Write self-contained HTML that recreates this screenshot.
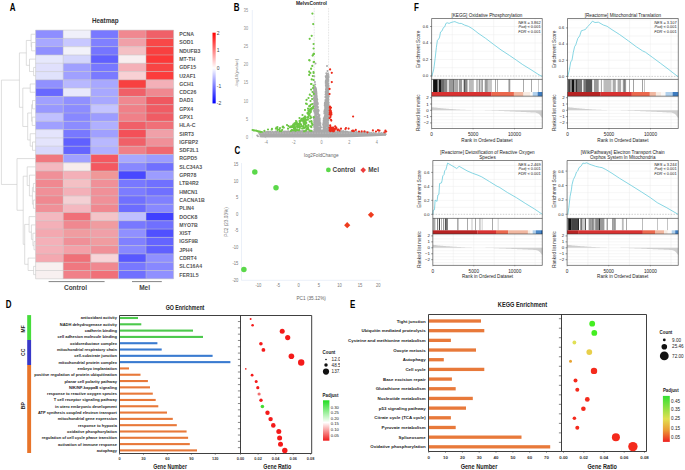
<!DOCTYPE html>
<html><head><meta charset="utf-8"><style>
html,body{margin:0;padding:0;background:#fff;width:685px;height:470px;overflow:hidden}
svg{display:block}
text{font-family:"Liberation Sans",sans-serif}
.b{font-weight:bold}
</style></head><body>
<svg width="685" height="470" viewBox="0 0 685 470">
<rect width="685" height="470" fill="#fff"/>
<text transform="translate(9.7 10.65) scale(0.76 1)" class="b" font-size="10.5">A</text>
<text x="105.3" y="23" class="b" font-size="6.3" fill="#333" text-anchor="middle">Heatmap</text>
<rect x="35.60" y="30.10" width="27.60" height="8.29" fill="#8e8eff"/>
<rect x="63.20" y="30.10" width="27.60" height="8.29" fill="#f0f0fa"/>
<rect x="90.80" y="30.10" width="27.60" height="8.29" fill="#7878ff"/>
<rect x="118.40" y="30.10" width="27.60" height="8.29" fill="#f08890"/>
<rect x="146.00" y="30.10" width="27.60" height="8.29" fill="#f06068"/>
<rect x="35.60" y="38.39" width="27.60" height="8.29" fill="#a8a8ff"/>
<rect x="63.20" y="38.39" width="27.60" height="8.29" fill="#c8c8ff"/>
<rect x="90.80" y="38.39" width="27.60" height="8.29" fill="#8080ff"/>
<rect x="118.40" y="38.39" width="27.60" height="8.29" fill="#f0a0a8"/>
<rect x="146.00" y="38.39" width="27.60" height="8.29" fill="#f84848"/>
<rect x="35.60" y="46.68" width="27.60" height="8.29" fill="#9090ff"/>
<rect x="63.20" y="46.68" width="27.60" height="8.29" fill="#f2f2fa"/>
<rect x="90.80" y="46.68" width="27.60" height="8.29" fill="#7575ff"/>
<rect x="118.40" y="46.68" width="27.60" height="8.29" fill="#f4c0c4"/>
<rect x="146.00" y="46.68" width="27.60" height="8.29" fill="#f84040"/>
<rect x="35.60" y="54.97" width="27.60" height="8.29" fill="#e6e8fc"/>
<rect x="63.20" y="54.97" width="27.60" height="8.29" fill="#d4d6fc"/>
<rect x="90.80" y="54.97" width="27.60" height="8.29" fill="#6060ff"/>
<rect x="118.40" y="54.97" width="27.60" height="8.29" fill="#f8eef0"/>
<rect x="146.00" y="54.97" width="27.60" height="8.29" fill="#fc3838"/>
<rect x="35.60" y="63.26" width="27.60" height="8.29" fill="#e0e0fc"/>
<rect x="63.20" y="63.26" width="27.60" height="8.29" fill="#a0a0ff"/>
<rect x="90.80" y="63.26" width="27.60" height="8.29" fill="#7878ff"/>
<rect x="118.40" y="63.26" width="27.60" height="8.29" fill="#f4b0b8"/>
<rect x="146.00" y="63.26" width="27.60" height="8.29" fill="#f84444"/>
<rect x="35.60" y="71.55" width="27.60" height="8.29" fill="#e0e2fc"/>
<rect x="63.20" y="71.55" width="27.60" height="8.29" fill="#a0a0ff"/>
<rect x="90.80" y="71.55" width="27.60" height="8.29" fill="#7a7aff"/>
<rect x="118.40" y="71.55" width="27.60" height="8.29" fill="#f8d0d4"/>
<rect x="146.00" y="71.55" width="27.60" height="8.29" fill="#fc3c3c"/>
<rect x="35.60" y="79.84" width="27.60" height="8.29" fill="#9090ff"/>
<rect x="63.20" y="79.84" width="27.60" height="8.29" fill="#b8b8ff"/>
<rect x="90.80" y="79.84" width="27.60" height="8.29" fill="#a8a8ff"/>
<rect x="118.40" y="79.84" width="27.60" height="8.29" fill="#f84040"/>
<rect x="146.00" y="79.84" width="27.60" height="8.29" fill="#f4b0b8"/>
<rect x="35.60" y="88.13" width="27.60" height="8.29" fill="#6868ff"/>
<rect x="63.20" y="88.13" width="27.60" height="8.29" fill="#e8e8fc"/>
<rect x="90.80" y="88.13" width="27.60" height="8.29" fill="#a8a8ff"/>
<rect x="118.40" y="88.13" width="27.60" height="8.29" fill="#f06068"/>
<rect x="146.00" y="88.13" width="27.60" height="8.29" fill="#f08890"/>
<rect x="35.60" y="96.42" width="27.60" height="8.29" fill="#a0a0ff"/>
<rect x="63.20" y="96.42" width="27.60" height="8.29" fill="#9090ff"/>
<rect x="90.80" y="96.42" width="27.60" height="8.29" fill="#a8a8ff"/>
<rect x="118.40" y="96.42" width="27.60" height="8.29" fill="#f08890"/>
<rect x="146.00" y="96.42" width="27.60" height="8.29" fill="#f05860"/>
<rect x="35.60" y="104.71" width="27.60" height="8.29" fill="#9898ff"/>
<rect x="63.20" y="104.71" width="27.60" height="8.29" fill="#8c8cff"/>
<rect x="90.80" y="104.71" width="27.60" height="8.29" fill="#c4c4ff"/>
<rect x="118.40" y="104.71" width="27.60" height="8.29" fill="#f08088"/>
<rect x="146.00" y="104.71" width="27.60" height="8.29" fill="#f05c64"/>
<rect x="35.60" y="113.00" width="27.60" height="8.29" fill="#c0c0ff"/>
<rect x="63.20" y="113.00" width="27.60" height="8.29" fill="#8888ff"/>
<rect x="90.80" y="113.00" width="27.60" height="8.29" fill="#9c9cff"/>
<rect x="118.40" y="113.00" width="27.60" height="8.29" fill="#f08088"/>
<rect x="146.00" y="113.00" width="27.60" height="8.29" fill="#f05c64"/>
<rect x="35.60" y="121.29" width="27.60" height="8.29" fill="#a0a0ff"/>
<rect x="63.20" y="121.29" width="27.60" height="8.29" fill="#8c8cff"/>
<rect x="90.80" y="121.29" width="27.60" height="8.29" fill="#b0b0ff"/>
<rect x="118.40" y="121.29" width="27.60" height="8.29" fill="#f06068"/>
<rect x="146.00" y="121.29" width="27.60" height="8.29" fill="#f07078"/>
<rect x="35.60" y="129.58" width="27.60" height="8.29" fill="#e4e4fc"/>
<rect x="63.20" y="129.58" width="27.60" height="8.29" fill="#7878ff"/>
<rect x="90.80" y="129.58" width="27.60" height="8.29" fill="#a0a0ff"/>
<rect x="118.40" y="129.58" width="27.60" height="8.29" fill="#f45058"/>
<rect x="146.00" y="129.58" width="27.60" height="8.29" fill="#f0a0a8"/>
<rect x="35.60" y="137.87" width="27.60" height="8.29" fill="#e4e4fc"/>
<rect x="63.20" y="137.87" width="27.60" height="8.29" fill="#6060ff"/>
<rect x="90.80" y="137.87" width="27.60" height="8.29" fill="#b8b8ff"/>
<rect x="118.40" y="137.87" width="27.60" height="8.29" fill="#f06068"/>
<rect x="146.00" y="137.87" width="27.60" height="8.29" fill="#f09098"/>
<rect x="35.60" y="146.16" width="27.60" height="8.29" fill="#d8d8fc"/>
<rect x="63.20" y="146.16" width="27.60" height="8.29" fill="#6464ff"/>
<rect x="90.80" y="146.16" width="27.60" height="8.29" fill="#b0b0ff"/>
<rect x="118.40" y="146.16" width="27.60" height="8.29" fill="#f08088"/>
<rect x="146.00" y="146.16" width="27.60" height="8.29" fill="#f06870"/>
<rect x="35.60" y="154.45" width="27.60" height="8.29" fill="#f07880"/>
<rect x="63.20" y="154.45" width="27.60" height="8.29" fill="#a0a0ff"/>
<rect x="90.80" y="154.45" width="27.60" height="8.29" fill="#f45860"/>
<rect x="118.40" y="154.45" width="27.60" height="8.29" fill="#a8a8ff"/>
<rect x="146.00" y="154.45" width="27.60" height="8.29" fill="#9c9cff"/>
<rect x="35.60" y="162.74" width="27.60" height="8.29" fill="#f4b8c0"/>
<rect x="63.20" y="162.74" width="27.60" height="8.29" fill="#f8ecec"/>
<rect x="90.80" y="162.74" width="27.60" height="8.29" fill="#f45860"/>
<rect x="118.40" y="162.74" width="27.60" height="8.29" fill="#8888ff"/>
<rect x="146.00" y="162.74" width="27.60" height="8.29" fill="#7070ff"/>
<rect x="35.60" y="171.03" width="27.60" height="8.29" fill="#f09098"/>
<rect x="63.20" y="171.03" width="27.60" height="8.29" fill="#f4b0b8"/>
<rect x="90.80" y="171.03" width="27.60" height="8.29" fill="#f09898"/>
<rect x="118.40" y="171.03" width="27.60" height="8.29" fill="#4848ff"/>
<rect x="146.00" y="171.03" width="27.60" height="8.29" fill="#9c9cff"/>
<rect x="35.60" y="179.32" width="27.60" height="8.29" fill="#f08890"/>
<rect x="63.20" y="179.32" width="27.60" height="8.29" fill="#f4c0c4"/>
<rect x="90.80" y="179.32" width="27.60" height="8.29" fill="#f09098"/>
<rect x="118.40" y="179.32" width="27.60" height="8.29" fill="#7878ff"/>
<rect x="146.00" y="179.32" width="27.60" height="8.29" fill="#7070ff"/>
<rect x="35.60" y="187.61" width="27.60" height="8.29" fill="#f09098"/>
<rect x="63.20" y="187.61" width="27.60" height="8.29" fill="#f4b0b8"/>
<rect x="90.80" y="187.61" width="27.60" height="8.29" fill="#f09098"/>
<rect x="118.40" y="187.61" width="27.60" height="8.29" fill="#7c7cff"/>
<rect x="146.00" y="187.61" width="27.60" height="8.29" fill="#7070ff"/>
<rect x="35.60" y="195.90" width="27.60" height="8.29" fill="#f08890"/>
<rect x="63.20" y="195.90" width="27.60" height="8.29" fill="#f4d0d4"/>
<rect x="90.80" y="195.90" width="27.60" height="8.29" fill="#f09098"/>
<rect x="118.40" y="195.90" width="27.60" height="8.29" fill="#7070ff"/>
<rect x="146.00" y="195.90" width="27.60" height="8.29" fill="#8080ff"/>
<rect x="35.60" y="204.19" width="27.60" height="8.29" fill="#f09098"/>
<rect x="63.20" y="204.19" width="27.60" height="8.29" fill="#f4b8c0"/>
<rect x="90.80" y="204.19" width="27.60" height="8.29" fill="#f08890"/>
<rect x="118.40" y="204.19" width="27.60" height="8.29" fill="#6c6cff"/>
<rect x="146.00" y="204.19" width="27.60" height="8.29" fill="#8888ff"/>
<rect x="35.60" y="212.48" width="27.60" height="8.29" fill="#f4b8c0"/>
<rect x="63.20" y="212.48" width="27.60" height="8.29" fill="#f07078"/>
<rect x="90.80" y="212.48" width="27.60" height="8.29" fill="#f4c4c8"/>
<rect x="118.40" y="212.48" width="27.60" height="8.29" fill="#c0c0ff"/>
<rect x="146.00" y="212.48" width="27.60" height="8.29" fill="#4040ff"/>
<rect x="35.60" y="220.77" width="27.60" height="8.29" fill="#f4b0b8"/>
<rect x="63.20" y="220.77" width="27.60" height="8.29" fill="#f08890"/>
<rect x="90.80" y="220.77" width="27.60" height="8.29" fill="#f09ca0"/>
<rect x="118.40" y="220.77" width="27.60" height="8.29" fill="#7878ff"/>
<rect x="146.00" y="220.77" width="27.60" height="8.29" fill="#7070ff"/>
<rect x="35.60" y="229.06" width="27.60" height="8.29" fill="#f4a8b0"/>
<rect x="63.20" y="229.06" width="27.60" height="8.29" fill="#f09ca0"/>
<rect x="90.80" y="229.06" width="27.60" height="8.29" fill="#f0a0a8"/>
<rect x="118.40" y="229.06" width="27.60" height="8.29" fill="#9090ff"/>
<rect x="146.00" y="229.06" width="27.60" height="8.29" fill="#5050ff"/>
<rect x="35.60" y="237.35" width="27.60" height="8.29" fill="#f4b0b8"/>
<rect x="63.20" y="237.35" width="27.60" height="8.29" fill="#f09098"/>
<rect x="90.80" y="237.35" width="27.60" height="8.29" fill="#f09ca0"/>
<rect x="118.40" y="237.35" width="27.60" height="8.29" fill="#8080ff"/>
<rect x="146.00" y="237.35" width="27.60" height="8.29" fill="#6464ff"/>
<rect x="35.60" y="245.64" width="27.60" height="8.29" fill="#f4b0b8"/>
<rect x="63.20" y="245.64" width="27.60" height="8.29" fill="#f4a0a8"/>
<rect x="90.80" y="245.64" width="27.60" height="8.29" fill="#f09098"/>
<rect x="118.40" y="245.64" width="27.60" height="8.29" fill="#8888ff"/>
<rect x="146.00" y="245.64" width="27.60" height="8.29" fill="#6060ff"/>
<rect x="35.60" y="253.93" width="27.60" height="8.29" fill="#f4a8b0"/>
<rect x="63.20" y="253.93" width="27.60" height="8.29" fill="#f07078"/>
<rect x="90.80" y="253.93" width="27.60" height="8.29" fill="#f8d4d8"/>
<rect x="118.40" y="253.93" width="27.60" height="8.29" fill="#5858ff"/>
<rect x="146.00" y="253.93" width="27.60" height="8.29" fill="#9090ff"/>
<rect x="35.60" y="262.22" width="27.60" height="8.29" fill="#f8f0f0"/>
<rect x="63.20" y="262.22" width="27.60" height="8.29" fill="#f07880"/>
<rect x="90.80" y="262.22" width="27.60" height="8.29" fill="#f08890"/>
<rect x="118.40" y="262.22" width="27.60" height="8.29" fill="#7878ff"/>
<rect x="146.00" y="262.22" width="27.60" height="8.29" fill="#8888ff"/>
<rect x="35.60" y="270.51" width="27.60" height="8.29" fill="#f8f0f0"/>
<rect x="63.20" y="270.51" width="27.60" height="8.29" fill="#f08088"/>
<rect x="90.80" y="270.51" width="27.60" height="8.29" fill="#f07078"/>
<rect x="118.40" y="270.51" width="27.60" height="8.29" fill="#7070ff"/>
<rect x="146.00" y="270.51" width="27.60" height="8.29" fill="#9090ff"/>
<path d="M35.60 30.10H173.60M35.60 38.39H173.60M35.60 46.68H173.60M35.60 54.97H173.60M35.60 63.26H173.60M35.60 71.55H173.60M35.60 79.84H173.60M35.60 88.13H173.60M35.60 96.42H173.60M35.60 104.71H173.60M35.60 113.00H173.60M35.60 121.29H173.60M35.60 129.58H173.60M35.60 137.87H173.60M35.60 146.16H173.60M35.60 154.45H173.60M35.60 162.74H173.60M35.60 171.03H173.60M35.60 179.32H173.60M35.60 187.61H173.60M35.60 195.90H173.60M35.60 204.19H173.60M35.60 212.48H173.60M35.60 220.77H173.60M35.60 229.06H173.60M35.60 237.35H173.60M35.60 245.64H173.60M35.60 253.93H173.60M35.60 262.22H173.60M35.60 270.51H173.60M35.60 278.80H173.60M35.60 30.10V278.80M63.20 30.10V278.80M90.80 30.10V278.80M118.40 30.10V278.80M146.00 30.10V278.80M173.60 30.10V278.80" stroke="#c0c0c0" stroke-width="0.5" fill="none"/>
<text x="179.3" y="36.15" class="b" font-size="5.2" fill="#555">PCNA</text>
<text x="179.3" y="44.43" class="b" font-size="5.2" fill="#555">SOD1</text>
<text x="179.3" y="52.73" class="b" font-size="5.2" fill="#555">NDUFB3</text>
<text x="179.3" y="61.01" class="b" font-size="5.2" fill="#555">MT-TH</text>
<text x="179.3" y="69.31" class="b" font-size="5.2" fill="#555">GDF15</text>
<text x="179.3" y="77.59" class="b" font-size="5.2" fill="#555">U2AF1</text>
<text x="179.3" y="85.88" class="b" font-size="5.2" fill="#555">GCH1</text>
<text x="179.3" y="94.18" class="b" font-size="5.2" fill="#555">CDC26</text>
<text x="179.3" y="102.47" class="b" font-size="5.2" fill="#555">DAD1</text>
<text x="179.3" y="110.75" class="b" font-size="5.2" fill="#555">GPX4</text>
<text x="179.3" y="119.04" class="b" font-size="5.2" fill="#555">GPX1</text>
<text x="179.3" y="127.34" class="b" font-size="5.2" fill="#555">HLA-C</text>
<text x="179.3" y="135.62" class="b" font-size="5.2" fill="#555">SIRT3</text>
<text x="179.3" y="143.91" class="b" font-size="5.2" fill="#555">IGFBP2</text>
<text x="179.3" y="152.20" class="b" font-size="5.2" fill="#555">SDF2L1</text>
<text x="179.3" y="160.49" class="b" font-size="5.2" fill="#555">RGPD5</text>
<text x="179.3" y="168.78" class="b" font-size="5.2" fill="#555">SLC34A3</text>
<text x="179.3" y="177.07" class="b" font-size="5.2" fill="#555">GPR78</text>
<text x="179.3" y="185.36" class="b" font-size="5.2" fill="#555">LTB4R2</text>
<text x="179.3" y="193.65" class="b" font-size="5.2" fill="#555">HMCN1</text>
<text x="179.3" y="201.94" class="b" font-size="5.2" fill="#555">CACNA1B</text>
<text x="179.3" y="210.23" class="b" font-size="5.2" fill="#555">PLIN4</text>
<text x="179.3" y="218.52" class="b" font-size="5.2" fill="#555">DOCK8</text>
<text x="179.3" y="226.81" class="b" font-size="5.2" fill="#555">MYO7B</text>
<text x="179.3" y="235.10" class="b" font-size="5.2" fill="#555">XIST</text>
<text x="179.3" y="243.39" class="b" font-size="5.2" fill="#555">IGSF9B</text>
<text x="179.3" y="251.68" class="b" font-size="5.2" fill="#555">JPH4</text>
<text x="179.3" y="259.97" class="b" font-size="5.2" fill="#555">CDRT4</text>
<text x="179.3" y="268.26" class="b" font-size="5.2" fill="#555">SLC16A4</text>
<text x="179.3" y="276.55" class="b" font-size="5.2" fill="#555">FER1L5</text>
<defs><linearGradient id="hmcb" x1="0" y1="0" x2="0" y2="1"><stop offset="0" stop-color="#ff0000"/><stop offset="0.5" stop-color="#ffffff"/><stop offset="1" stop-color="#0000ff"/></linearGradient></defs>
<rect x="212.5" y="32.7" width="3.2" height="70.7" fill="url(#hmcb)"/>
<text x="216.8" y="34.6" font-size="5" fill="#444">2</text>
<text x="216.8" y="52.2" font-size="5" fill="#444">1</text>
<text x="216.8" y="69.9" font-size="5" fill="#444">0</text>
<text x="216.8" y="87.6" font-size="5" fill="#444">-1</text>
<text x="216.8" y="105.3" font-size="5" fill="#444">-2</text>
<path d="M35.60 42.53H31.60V50.83H35.60M35.60 34.25H31.10V46.68H31.60M35.60 67.41H33.60V75.69H35.60M35.60 59.11H29.50V71.55H33.60M31.10 40.46H26.30V65.33H29.50M35.60 83.98H30.20V92.28H35.60M35.60 100.56H32.50V108.85H35.60M35.60 117.14H32.20V125.44H35.60M32.50 104.71H31.60V121.29H32.20M35.60 142.01H32.50V150.30H35.60M35.60 133.72H30.20V146.16H32.50M31.60 113.00H27.70V139.94H30.20M30.20 88.13H22.80V126.47H27.70M26.30 52.90H19.40V107.30H22.80M35.60 183.46H33.40V191.75H35.60M35.60 200.04H33.40V208.33H35.60M33.40 187.61H32.40V204.19H33.40M35.60 175.17H29.40V195.90H32.40M35.60 166.88H27.20V185.54H29.40M35.60 241.49H34.00V249.78H35.60M35.60 233.20H32.90V245.64H34.00M35.60 224.91H31.40V239.42H32.90M35.60 216.62H29.10V232.17H31.40M35.60 266.37H33.60V274.65H35.60M35.60 258.07H28.10V270.51H33.60M29.10 224.40H24.70V264.29H28.10M27.20 176.21H23.20V244.34H24.70M35.60 158.59H17.00V210.28H23.20M19.40 80.10H1.40V184.44H17.00" stroke="#c8c8c8" stroke-width="0.6" fill="none"/>
<path d="M48.6 281.6H104.6M132 281.6H161.8" stroke="#777" stroke-width="0.9"/>
<text x="75.5" y="290" class="b" font-size="6.5" fill="#444" text-anchor="middle">Control</text>
<text x="144.6" y="290" class="b" font-size="6.5" fill="#444" text-anchor="middle">Mel</text>
<text transform="translate(233.8 10.65) scale(0.76 1)" class="b" font-size="10.5">B</text>
<text x="311.5" y="4.9" class="b" font-size="4.9" fill="#222" text-anchor="middle">MelvsControl</text>
<path d="M252.3 10V138.3" stroke="#dde6f3" stroke-width="0.6"/>
<text transform="translate(248.1 138.8) scale(1 1.2)" font-size="3.8" fill="#8a8a8a" text-anchor="end">0</text>
<text transform="translate(248.1 120.7) scale(1 1.2)" font-size="3.8" fill="#8a8a8a" text-anchor="end">5</text>
<text transform="translate(248.1 102.5) scale(1 1.2)" font-size="3.8" fill="#8a8a8a" text-anchor="end">10</text>
<text transform="translate(248.1 84.4) scale(1 1.2)" font-size="3.8" fill="#8a8a8a" text-anchor="end">15</text>
<text transform="translate(248.1 66.2) scale(1 1.2)" font-size="3.8" fill="#8a8a8a" text-anchor="end">20</text>
<text transform="translate(248.1 48.1) scale(1 1.2)" font-size="3.8" fill="#8a8a8a" text-anchor="end">25</text>
<text transform="translate(248.1 29.9) scale(1 1.2)" font-size="3.8" fill="#8a8a8a" text-anchor="end">30</text>
<text transform="translate(248.1 11.8) scale(1 1.2)" font-size="3.8" fill="#8a8a8a" text-anchor="end">35</text>
<text transform="translate(266.1 143.9) scale(1 1.2)" font-size="3.8" fill="#8a8a8a" text-anchor="middle">-4</text>
<path d="M266.1 138.3v1.2" stroke="#dde6f3" stroke-width="0.5"/>
<text transform="translate(293.8 143.9) scale(1 1.2)" font-size="3.8" fill="#8a8a8a" text-anchor="middle">-2</text>
<path d="M293.8 138.3v1.2" stroke="#dde6f3" stroke-width="0.5"/>
<text transform="translate(321.5 143.9) scale(1 1.2)" font-size="3.8" fill="#8a8a8a" text-anchor="middle">0</text>
<path d="M321.5 138.3v1.2" stroke="#dde6f3" stroke-width="0.5"/>
<text transform="translate(349.2 143.9) scale(1 1.2)" font-size="3.8" fill="#8a8a8a" text-anchor="middle">2</text>
<path d="M349.2 138.3v1.2" stroke="#dde6f3" stroke-width="0.5"/>
<text transform="translate(376.9 143.9) scale(1 1.2)" font-size="3.8" fill="#8a8a8a" text-anchor="middle">4</text>
<path d="M376.9 138.3v1.2" stroke="#dde6f3" stroke-width="0.5"/>
<text transform="translate(237.6 72.9) rotate(-90)" font-size="4.4" fill="#888" text-anchor="middle">-log10(pvalue)</text>
<text x="321.3" y="157.4" font-size="4.7" fill="#666" text-anchor="middle">log2FoldChange</text>
<path d="M314.2 8V138M328.6 8V138" stroke="#c4c4c4" stroke-width="0.55" stroke-dasharray="0.8 0.8"/>
<polygon points="259.5,133.4 262.0,132.8 270.0,132.3 290.0,131.8 314.0,131.3 329.0,131.3 350.0,131.9 370.0,132.8 386.0,133.8 386.0,135.8 370.0,136.6 350.0,137.2 330.0,137.6 262.0,137.6 259.5,137.2" fill="#a9a9a9"/>
<path d="M300.5 131.2h0M342.3 131.2h0M327.6 131.2h0M266.4 132.6h0M263.8 132.7h0M267.9 132.0h0M313.3 131.9h0M274.8 131.9h0M339.3 132.3h0M332.9 131.4h0M384.0 133.1h0M368.9 132.6h0M277.5 131.7h0M298.5 132.2h0M282.1 132.2h0M340.8 131.6h0M329.1 130.8h0M266.6 132.2h0M346.1 131.8h0M299.2 131.8h0M317.0 131.1h0M360.7 132.8h0M290.2 132.0h0M326.2 131.9h0M352.4 131.8h0M384.5 133.3h0M312.5 131.8h0M278.5 132.2h0M264.0 133.0h0M356.9 132.4h0M371.1 132.7h0M348.0 132.1h0M333.2 131.5h0M366.5 133.4h0M319.7 131.6h0M266.8 132.9h0M341.8 132.5h0M364.2 132.3h0M308.4 131.8h0M261.9 132.9h0M280.5 131.6h0M266.5 133.0h0M275.6 131.9h0M309.0 132.0h0M269.3 132.4h0M329.3 131.9h0M363.9 133.1h0M294.6 131.7h0M304.9 132.1h0M381.6 133.1h0M281.6 131.7h0M288.9 131.9h0M334.4 131.2h0M259.5 133.4h0M306.3 131.7h0M381.0 133.9h0M325.0 131.6h0M345.6 131.2h0M374.1 133.6h0M370.9 133.4h0M309.2 131.4h0M272.3 132.5h0M267.0 132.0h0M285.7 131.5h0M302.5 131.0h0M259.0 133.0h0M272.0 132.2h0M262.3 133.4h0M337.6 131.2h0M291.3 131.7h0M305.6 131.0h0M367.7 133.5h0M318.6 131.4h0M270.0 131.8h0M302.9 131.3h0M365.1 132.2h0M262.0 133.5h0M326.6 130.9h0M328.5 130.7h0M326.6 132.1h0M369.5 133.2h0M292.4 131.7h0M280.4 132.5h0M327.2 131.8h0M301.2 131.3h0M362.9 133.3h0M368.1 133.2h0M363.7 133.0h0M288.0 132.0h0M304.5 130.9h0M262.6 132.6h0M292.2 132.1h0M381.4 133.5h0M378.9 134.1h0M381.2 133.4h0M287.2 131.6h0M284.2 131.6h0M338.9 132.2h0M366.6 132.7h0M342.6 132.2h0M269.9 132.6h0M375.5 133.6h0M355.0 132.2h0M281.9 132.5h0M301.6 132.1h0M383.4 133.6h0M310.4 132.1h0M351.8 131.6h0M275.3 131.8h0M374.8 133.6h0M277.7 132.7h0M384.5 134.0h0M303.9 131.7h0M275.8 131.6h0M383.3 133.9h0M326.4 132.0h0M314.5 131.9h0M364.7 132.3h0M291.2 131.6h0M289.8 132.0h0M292.2 131.7h0M275.8 132.8h0M304.3 131.5h0M333.7 132.1h0M312.8 132.0h0M323.2 131.4h0M326.0 130.7h0M315.3 131.0h0M259.5 133.9h0M281.1 132.1h0M351.8 132.2h0M300.7 131.7h0M330.1 131.8h0M272.6 132.4h0M290.8 131.6h0M357.8 132.4h0M330.9 131.8h0M375.8 133.2h0M337.4 131.6h0M324.6 131.7h0M316.9 131.4h0M320.2 132.0h0M348.5 132.5h0M379.6 133.2h0M330.6 132.1h0M366.5 132.2h0M274.6 132.2h0M268.3 132.1h0M268.4 132.7h0M359.3 133.0h0M278.8 132.5h0M343.5 131.3h0M372.0 133.7h0M287.1 132.6h0M310.0 131.5h0M385.7 134.3h0M279.7 132.1h0M325.0 131.2h0M284.1 131.8h0M351.4 131.4h0M329.9 131.3h0M261.3 132.8h0M338.9 131.7h0M267.2 133.3h0M359.9 133.1h0M272.4 132.0h0M264.1 133.2h0M293.6 131.3h0M313.0 132.0h0M363.8 132.3h0M278.1 132.8h0M332.0 131.8h0M270.5 131.8h0M347.1 131.8h0M268.3 133.1h0M340.2 132.1h0M269.7 132.9h0M267.5 133.1h0M317.1 131.2h0M329.8 132.0h0M293.3 131.3h0M326.4 131.0h0M273.0 131.9h0M265.4 132.3h0M298.9 131.4h0M356.2 132.0h0M323.0 130.9h0M303.4 130.9h0M291.1 131.2h0M352.8 132.2h0M283.3 132.0h0M378.6 132.9h0M363.8 132.5h0M322.4 131.9h0M309.3 131.5h0M347.0 132.6h0M302.9 132.1h0M349.5 132.2h0M310.8 131.3h0M266.0 132.1h0M268.1 132.9h0M291.7 131.4h0M269.8 132.9h0M370.4 133.2h0M295.1 131.4h0M296.5 131.7h0M279.2 132.1h0M292.7 132.5h0M383.5 133.8h0M290.3 132.5h0M298.6 131.5h0M259.1 133.3h0M319.8 131.4h0M284.7 132.0h0M259.6 133.1h0M270.5 132.2h0M264.3 132.1h0M297.9 131.4h0M334.0 131.6h0M355.1 132.4h0M350.6 132.6h0M308.9 131.3h0M385.0 133.3h0M351.7 132.3h0M264.6 133.2h0M373.2 133.3h0M352.9 132.6h0M276.8 132.3h0M323.6 131.9h0M362.0 133.0h0M333.8 132.1h0M346.4 132.2h0M288.4 131.3h0M276.0 132.1h0M272.4 132.8h0M330.5 131.6h0M339.2 131.9h0M321.6 130.7h0M361.1 132.8h0M323.4 131.4h0M343.4 131.2h0M353.3 131.8h0M268.5 132.2h0M352.4 131.7h0M353.7 132.8h0M322.2 131.2h0M320.3 131.7h0M357.2 132.5h0M341.3 131.2h0M277.9 131.9h0M354.1 131.9h0M331.7 130.8h0M266.8 132.3h0M345.0 132.1h0M345.5 131.6h0M325.1 131.4h0M318.7 130.9h0M373.4 132.7h0M384.2 134.4h0M261.2 133.0h0M257.2 135.4h0M265.4 136.4h0M258.0 136.2h0M316.6 95.6h0M315.3 112.7h0M320.1 123.1h0M317.7 123.1h0M317.5 125.9h0M314.2 89.3h0M315.3 95.6h0M315.7 92.4h0M319.7 122.2h0M314.0 111.1h0M317.6 130.9h0M315.5 112.7h0M316.3 125.9h0M318.9 118.6h0M319.6 131.0h0M314.2 94.7h0M315.6 90.5h0M314.6 91.7h0M316.1 116.2h0M315.1 87.1h0M316.4 116.7h0M314.2 120.4h0M319.9 127.4h0M319.7 119.9h0M315.6 121.5h0M314.8 110.0h0M319.3 116.1h0M315.9 92.6h0M317.6 104.5h0M315.2 89.9h0M314.1 100.4h0M315.4 99.8h0M316.0 98.8h0M314.2 119.9h0M314.2 90.5h0M315.7 111.7h0M318.4 119.4h0M314.5 88.1h0M315.1 103.3h0M315.7 107.9h0M315.0 124.8h0M319.9 123.2h0M315.0 110.6h0M316.3 91.5h0M314.6 112.7h0M314.5 123.8h0M314.4 117.5h0M315.6 121.9h0M317.9 107.3h0M315.3 99.0h0M316.7 114.3h0M315.8 116.0h0M315.9 128.9h0M314.2 88.6h0M317.0 110.3h0M314.5 93.6h0M315.5 120.5h0M316.4 115.0h0M315.8 89.2h0M314.0 93.1h0M319.2 130.0h0M315.1 92.0h0M313.9 106.5h0M319.1 115.3h0M316.3 95.4h0M314.4 88.3h0M315.0 127.2h0M317.2 109.5h0M315.6 89.8h0M316.9 103.7h0M316.8 112.4h0M319.7 129.7h0M319.8 122.2h0M315.1 103.8h0M315.7 126.4h0M316.7 104.2h0M314.4 127.0h0M316.7 109.4h0M315.1 115.5h0M313.9 105.9h0M316.7 119.2h0M315.3 89.0h0M315.1 92.6h0M315.5 122.1h0M315.5 88.9h0M314.0 119.0h0M317.2 110.5h0M315.3 114.1h0M317.5 102.8h0M314.1 122.4h0M316.4 117.7h0M314.6 102.1h0M316.1 96.7h0M314.9 110.3h0M314.6 88.5h0M314.5 95.6h0M318.9 122.6h0M319.7 119.5h0M314.8 110.7h0M316.6 122.5h0M317.6 102.9h0M316.6 125.7h0M320.3 123.0h0M314.3 125.9h0M316.8 129.0h0M316.1 91.9h0M317.3 99.7h0M314.7 90.3h0M320.2 124.1h0M314.0 99.1h0M315.4 102.9h0M315.8 116.1h0M313.9 124.8h0M316.1 120.2h0M314.2 89.1h0M314.4 88.7h0M318.6 116.8h0M315.1 95.5h0M317.4 129.4h0M319.1 116.1h0M316.3 123.8h0M314.0 92.0h0M318.3 114.5h0M314.0 98.2h0M314.4 129.9h0M314.5 90.9h0M316.9 99.1h0M315.5 117.6h0M315.3 89.0h0M318.4 120.9h0M315.5 118.6h0M319.6 130.9h0M315.4 91.0h0M314.0 89.7h0M317.0 122.1h0M316.1 89.1h0M315.3 115.5h0M316.5 113.6h0M314.3 90.5h0M316.1 96.5h0M316.0 95.5h0M315.3 105.6h0M316.1 118.5h0M314.1 97.4h0M318.9 123.6h0M314.3 121.5h0M318.0 129.9h0M319.7 118.2h0M316.4 92.6h0M314.4 120.8h0M317.5 127.6h0M315.5 100.8h0M316.6 122.1h0M316.7 105.0h0M316.7 99.0h0M314.4 102.9h0M314.7 94.6h0M315.6 107.4h0M314.6 99.5h0M315.5 121.5h0M320.0 125.4h0M315.3 106.9h0M319.4 115.1h0M315.0 110.1h0M315.8 96.2h0M314.1 87.4h0M318.1 111.6h0M316.3 94.7h0M316.1 129.7h0M315.2 126.8h0M315.2 88.3h0M314.8 90.4h0M315.1 93.4h0M318.8 121.0h0M314.1 89.6h0M316.6 106.1h0M316.3 122.8h0M315.3 125.9h0M317.7 121.2h0M314.7 103.5h0M316.4 130.7h0M314.6 102.3h0M315.1 118.8h0M315.5 96.8h0M314.6 128.9h0M316.9 115.1h0M314.3 104.1h0M318.6 125.0h0M315.4 114.5h0M319.7 119.0h0M317.3 118.8h0M316.3 116.8h0M316.5 93.5h0M315.0 116.5h0M314.6 100.0h0M320.7 130.8h0M318.3 113.9h0M318.7 114.7h0M314.7 112.2h0M318.1 130.6h0M317.6 104.0h0M318.4 127.9h0M316.8 116.2h0M315.9 125.7h0M318.3 109.5h0M317.4 127.2h0M316.7 96.3h0M314.7 123.6h0M316.1 89.7h0M314.2 111.3h0M314.8 90.6h0M315.4 91.6h0M314.3 95.4h0M314.6 97.2h0M318.5 114.7h0M314.4 95.2h0M316.5 122.8h0M315.8 109.7h0M315.6 126.6h0M317.0 100.1h0M318.1 129.7h0M314.0 98.6h0M314.2 94.8h0M316.3 105.9h0M315.2 104.7h0M317.0 114.1h0M317.4 113.8h0M316.2 112.9h0M318.5 130.3h0M315.1 110.9h0M316.4 98.3h0M314.8 112.3h0M314.4 111.7h0M316.9 126.4h0M317.1 127.8h0M314.1 110.0h0M314.2 104.2h0M316.5 99.7h0M314.2 110.0h0M315.8 110.3h0M314.2 89.4h0M316.5 93.9h0M316.7 99.8h0M320.4 123.8h0M318.7 110.8h0M314.3 91.0h0M316.7 97.1h0M316.5 128.8h0M314.4 98.6h0M314.6 92.0h0M314.3 95.8h0M318.4 110.4h0M315.6 123.2h0M315.5 110.2h0M315.3 129.8h0M320.3 125.1h0M317.3 102.2h0M319.2 124.8h0M317.7 126.9h0M315.4 104.2h0M315.3 93.1h0M317.8 106.8h0M321.0 127.3h0M315.5 104.5h0M314.7 96.7h0M315.1 87.5h0M318.3 116.7h0M314.8 113.1h0M314.1 99.2h0M314.6 95.6h0M317.9 104.1h0M316.8 106.6h0M313.9 118.8h0M315.0 129.9h0M315.7 105.2h0M318.2 109.9h0M315.5 126.3h0M314.0 103.5h0M316.6 130.9h0M316.4 127.3h0M317.7 122.5h0M314.8 106.4h0M315.9 104.8h0M320.4 126.1h0M314.9 121.7h0M318.5 127.7h0M315.9 93.2h0M315.4 114.9h0M318.8 130.7h0M315.5 107.6h0M315.7 103.8h0M315.6 90.0h0M319.6 121.5h0M317.8 129.6h0M315.2 114.7h0M319.6 129.1h0M318.1 130.6h0M314.2 89.9h0M317.9 123.5h0M317.0 110.2h0M314.4 95.9h0M315.7 118.9h0M320.5 129.4h0M316.1 97.4h0M320.3 130.8h0M315.4 99.2h0M315.4 99.3h0M314.6 122.4h0M314.2 122.2h0M318.3 117.8h0M317.0 101.5h0M314.8 100.7h0M315.9 108.0h0M315.5 97.1h0M317.9 120.8h0M314.4 88.7h0M313.9 92.8h0M315.4 121.0h0M317.0 99.2h0M315.0 99.1h0M314.7 92.8h0M319.7 121.9h0M316.7 104.5h0M317.7 102.9h0M318.2 111.8h0M317.0 101.4h0M317.7 113.3h0M315.3 107.3h0M318.0 123.0h0M320.5 128.3h0M314.1 125.8h0M320.5 127.2h0M314.7 117.4h0M314.2 130.1h0M316.2 101.6h0M316.6 101.4h0M318.2 128.8h0M318.6 116.5h0M316.4 95.6h0M320.2 128.8h0M316.2 91.1h0M315.4 127.2h0M314.1 127.0h0M316.1 94.3h0M317.3 104.3h0M315.1 104.5h0M314.6 127.5h0M314.6 98.6h0M316.4 118.5h0M315.8 130.4h0M318.3 120.0h0M315.7 116.3h0M315.0 88.7h0M315.5 94.1h0M317.0 130.0h0M318.0 113.3h0M318.0 117.3h0M314.9 108.8h0M314.1 93.6h0M314.4 95.6h0M315.4 131.0h0M317.0 98.4h0M317.6 130.9h0M317.9 110.9h0M317.2 124.1h0M318.7 117.3h0M319.8 121.0h0M315.2 120.0h0M315.7 101.3h0M318.4 127.1h0M319.6 128.2h0M316.8 101.4h0M315.4 104.6h0M316.1 114.9h0M314.1 92.3h0M314.0 92.4h0M315.6 123.3h0M315.1 91.8h0M318.9 115.9h0M316.9 122.1h0M317.5 109.0h0M316.0 98.8h0M315.8 117.2h0M319.7 125.3h0M316.8 103.0h0M316.9 124.8h0M315.7 97.8h0M317.1 126.5h0M314.5 92.5h0M315.9 123.9h0M316.9 101.1h0M315.0 125.4h0M316.0 121.5h0M314.7 109.5h0M315.0 118.1h0M315.5 88.2h0M320.8 127.4h0M316.6 127.4h0M315.6 87.8h0M315.4 99.7h0M326.8 121.7h0M324.2 126.2h0M324.3 111.2h0M327.8 110.6h0M327.1 93.6h0M326.9 97.2h0M326.5 124.5h0M327.5 110.3h0M327.0 80.6h0M327.8 100.6h0M325.3 109.4h0M328.3 91.9h0M327.8 88.7h0M327.7 84.0h0M326.9 96.6h0M326.9 115.4h0M325.4 126.7h0M327.8 88.2h0M326.1 97.3h0M326.3 109.2h0M326.6 97.8h0M328.5 94.6h0M326.8 122.3h0M326.8 88.5h0M328.6 105.5h0M326.0 129.5h0M327.5 123.5h0M327.2 78.6h0M326.3 126.5h0M327.6 102.5h0M327.3 104.2h0M327.2 85.4h0M328.5 110.0h0M327.0 120.9h0M327.6 111.0h0M328.6 125.4h0M324.3 113.0h0M325.7 117.5h0M325.2 130.5h0M327.4 109.4h0M325.2 113.2h0M327.3 120.2h0M327.3 78.7h0M327.7 120.5h0M325.1 111.0h0M327.4 125.1h0M327.6 86.6h0M326.9 106.6h0M328.5 120.1h0M327.0 113.2h0M328.1 86.1h0M325.7 106.7h0M325.4 102.1h0M326.7 85.2h0M326.5 84.1h0M325.3 111.9h0M325.1 109.1h0M327.0 130.9h0M324.9 117.1h0M326.1 116.0h0M327.1 109.0h0M326.6 95.6h0M328.3 79.4h0M327.7 128.6h0M328.0 80.8h0M327.8 124.5h0M325.3 97.1h0M328.4 130.6h0M326.2 95.8h0M323.8 126.5h0M327.5 119.7h0M324.7 113.6h0M328.1 80.9h0M328.1 123.1h0M327.9 98.6h0M328.4 95.0h0M328.2 87.9h0M327.1 121.6h0M327.7 103.1h0M328.2 108.4h0M325.9 101.7h0M324.2 119.7h0M324.9 105.3h0M325.1 106.8h0M326.7 105.4h0M328.2 102.6h0M327.7 130.8h0M326.9 106.7h0M328.2 95.2h0M326.0 112.0h0M325.9 77.4h0M327.5 96.9h0M326.4 129.9h0M328.5 94.2h0M328.6 114.4h0M326.6 104.3h0M325.8 81.3h0M327.5 92.1h0M328.0 114.0h0M326.3 112.5h0M327.8 103.4h0M325.7 120.9h0M326.7 109.3h0M326.5 85.6h0M326.9 85.5h0M325.8 104.7h0M328.6 104.5h0M328.0 95.9h0M325.4 114.4h0M326.7 116.1h0M328.0 97.0h0M327.0 129.4h0M327.3 82.0h0M324.5 128.9h0M323.8 130.8h0M327.5 79.8h0M328.0 95.7h0M327.5 80.5h0M327.4 98.1h0M327.4 93.4h0M326.2 94.3h0M326.9 95.1h0M325.9 89.4h0M323.5 122.4h0M328.4 88.7h0M326.6 95.8h0M328.0 85.8h0M325.9 101.3h0M325.9 116.0h0M325.9 115.1h0M328.5 96.6h0M326.1 128.7h0M323.4 129.4h0M327.4 86.6h0M327.0 80.0h0M325.0 130.5h0M328.5 99.5h0M327.1 76.2h0M324.7 109.9h0M326.0 96.5h0M323.2 124.0h0M326.8 130.8h0M328.5 125.5h0M327.9 127.1h0M323.2 125.1h0M326.4 92.0h0M326.2 91.2h0M327.4 128.9h0M328.3 92.4h0M325.9 91.4h0M327.7 97.4h0M328.4 107.1h0M328.5 118.6h0M325.6 92.1h0M326.6 130.5h0M325.9 86.1h0M327.4 115.5h0M327.9 123.2h0M324.8 105.7h0M326.7 112.4h0M327.3 108.4h0M327.6 124.3h0M327.0 112.6h0M326.7 97.3h0M327.7 111.4h0M328.0 78.4h0M326.1 101.0h0M328.5 128.4h0M328.2 93.0h0M326.8 114.3h0M328.2 76.4h0M326.2 99.0h0M328.2 109.0h0M327.3 111.9h0M328.3 99.0h0M326.5 86.7h0M324.2 131.0h0M326.9 109.3h0M328.4 86.2h0M327.7 129.3h0M328.3 86.5h0M326.0 100.7h0M328.1 84.1h0M328.4 94.1h0M324.4 113.5h0M327.9 101.8h0M327.4 121.4h0M326.4 79.2h0M327.6 98.7h0M325.4 106.9h0M327.4 118.6h0M327.0 87.7h0M327.6 127.1h0M326.3 88.9h0M328.3 100.3h0M327.2 82.0h0M327.0 106.2h0M324.3 122.0h0M327.1 122.5h0M326.7 112.6h0M326.5 110.4h0M323.4 124.1h0M326.8 75.2h0M326.6 126.3h0M326.1 88.0h0M326.3 99.2h0M324.8 103.8h0M328.6 129.7h0M327.1 83.2h0M325.9 101.0h0M326.9 88.4h0M328.0 78.3h0M328.6 86.1h0M323.8 118.6h0M324.3 121.4h0M323.2 127.3h0M328.2 101.6h0M328.5 107.3h0M325.9 80.5h0M326.5 99.2h0M328.5 125.6h0M326.5 118.4h0M328.6 96.7h0M326.7 95.0h0M325.1 107.8h0M328.7 77.1h0M323.6 120.3h0M325.4 118.5h0M328.4 81.0h0M325.8 84.9h0M327.8 88.0h0M328.7 96.3h0M323.6 128.7h0M328.5 89.9h0M326.4 94.5h0M327.8 99.6h0M324.8 126.3h0M324.2 118.4h0M325.3 105.9h0M324.3 119.4h0M325.5 94.5h0M326.2 92.1h0M328.3 129.6h0M328.4 120.4h0M328.4 83.2h0M325.6 124.6h0M328.3 126.7h0M327.6 84.6h0M325.9 107.6h0M327.1 85.8h0M325.7 97.4h0M323.7 120.3h0M327.3 92.4h0M328.0 124.3h0M325.7 117.9h0M324.7 123.8h0M326.7 84.8h0M325.9 123.1h0M328.2 115.1h0M328.6 125.9h0M328.1 128.6h0M326.1 95.1h0M325.7 106.2h0M324.6 118.4h0M328.7 112.6h0M328.5 75.1h0M324.6 126.7h0M325.8 81.4h0M326.5 91.6h0M325.7 76.3h0M326.7 86.8h0M323.1 124.6h0M327.3 85.2h0M325.6 122.2h0M326.3 80.4h0M325.5 100.7h0M327.5 122.5h0M326.2 92.5h0M323.4 127.6h0M326.9 98.6h0M324.7 117.5h0M327.7 98.3h0M327.4 86.5h0M323.7 121.3h0M326.9 91.2h0M325.8 91.9h0M326.7 86.5h0M328.3 84.7h0M324.7 105.3h0M327.1 80.5h0M326.5 82.8h0M327.8 122.2h0M324.8 112.4h0M326.8 112.2h0M325.8 130.8h0M326.6 108.0h0M327.1 125.5h0M328.3 86.2h0M327.3 115.0h0M327.6 111.6h0M328.0 128.4h0M327.2 77.8h0M326.8 104.1h0M324.9 102.7h0M326.4 77.0h0M323.8 122.4h0M327.8 118.8h0M323.3 129.8h0M326.2 93.2h0M326.3 130.3h0M326.9 100.4h0M325.9 93.0h0M327.8 83.0h0M323.5 129.1h0M326.7 105.2h0M324.3 117.2h0M324.8 110.2h0M328.2 99.6h0M326.3 124.2h0M326.1 90.4h0M328.5 85.6h0M326.1 111.2h0M327.3 84.8h0M328.4 110.8h0M326.7 88.6h0M325.3 119.3h0M328.6 108.6h0M328.4 86.9h0M328.2 86.3h0M325.8 128.8h0M328.5 77.6h0M325.7 118.9h0M326.5 97.2h0M325.1 103.1h0M326.6 108.7h0M323.5 130.2h0M328.0 76.9h0M327.6 78.9h0M328.3 86.6h0M325.8 82.1h0M326.2 96.6h0M326.4 94.5h0M328.4 102.4h0M326.1 97.8h0M326.5 103.7h0M326.6 78.0h0M327.0 115.8h0M326.4 125.5h0M327.2 77.7h0M326.0 117.8h0M325.4 102.9h0M323.8 125.4h0M325.8 116.5h0M324.9 116.7h0M326.1 127.1h0M327.5 84.8h0M327.4 100.8h0M327.2 121.4h0M326.8 107.1h0M326.8 98.3h0M325.0 115.5h0M326.1 120.3h0M326.8 111.5h0M324.8 130.6h0M326.4 83.4h0M326.8 101.6h0M328.6 116.9h0M327.6 116.4h0M323.6 123.6h0M327.0 82.9h0M325.1 128.4h0M327.6 108.3h0M324.3 126.1h0M327.9 77.5h0M325.0 123.8h0M327.2 113.2h0M328.2 98.1h0M327.2 85.9h0M327.9 90.9h0M327.1 89.6h0M327.8 88.1h0M326.1 80.2h0M325.7 82.9h0M327.4 89.3h0M328.5 105.0h0M326.5 100.7h0M328.3 88.2h0M326.5 98.6h0M326.4 107.6h0M326.5 91.8h0M326.7 111.1h0M325.6 111.4h0M328.2 88.0h0M326.5 104.9h0M324.9 122.3h0M326.3 124.3h0M325.4 100.1h0M326.7 79.9h0M328.2 84.6h0M326.3 77.5h0M328.3 109.1h0M322.9 130.6h0M326.8 101.1h0M328.0 79.9h0M328.7 102.7h0M326.8 103.9h0M326.8 94.1h0M326.8 112.9h0M328.5 113.3h0M327.2 94.6h0M325.1 126.6h0M326.7 110.5h0M328.3 100.6h0M327.2 77.2h0M327.1 108.3h0M326.7 75.2h0M328.0 103.1h0M325.0 123.0h0M328.2 76.3h0M325.2 104.2h0M315.5 63.4h0M314.3 76.2h0M314.9 81.9h0M315.2 84.5h0M327.0 66.0h0M327.5 71.0h0M326.3 73.2h0M328.0 73.5h0" stroke="#a9a9a9" stroke-width="2.0" stroke-linecap="round" fill="none"/>
<path d="M282.6 127.1h0M288.0 128.7h0M305.5 122.3h0M308.0 127.2h0M298.7 127.3h0M281.2 131.1h0M295.0 128.3h0M313.7 117.2h0M299.0 123.8h0M300.8 124.5h0M297.8 125.5h0M279.5 129.3h0M308.8 113.9h0M310.4 126.3h0M294.3 125.9h0M311.5 130.8h0M304.7 119.7h0M308.4 125.1h0M292.8 126.9h0M301.9 126.2h0M293.0 126.7h0M275.9 128.6h0M312.1 99.0h0M304.9 116.7h0M305.1 121.1h0M277.4 127.1h0M303.2 120.9h0M305.0 116.9h0M294.9 128.9h0M303.9 128.3h0M271.8 129.6h0M300.1 126.7h0M311.4 127.1h0M304.0 127.3h0M305.6 126.9h0M297.4 127.5h0M296.6 130.2h0M294.1 130.1h0M294.1 124.4h0M304.0 120.2h0M291.8 129.8h0M277.6 130.2h0M309.5 113.9h0M292.9 126.8h0M306.5 119.8h0M293.4 130.2h0M299.9 128.0h0M303.3 121.7h0M305.0 124.7h0M308.2 113.0h0M297.4 130.0h0M303.8 123.6h0M311.4 121.1h0M309.6 113.5h0M302.9 118.7h0M293.2 124.6h0M305.8 130.7h0M297.4 127.4h0M297.5 123.8h0M293.9 128.2h0M308.1 128.6h0M283.8 127.6h0M312.2 125.0h0M305.1 124.7h0M305.0 120.7h0M294.0 126.4h0M306.3 123.0h0M304.1 131.3h0M295.2 128.4h0M293.7 126.2h0M306.5 129.0h0M307.4 113.1h0M310.8 111.2h0M295.8 123.1h0M310.7 104.8h0M292.3 126.3h0M294.2 125.8h0M311.8 108.1h0M300.5 120.4h0M295.5 130.8h0M294.6 128.8h0M291.6 126.9h0M306.4 130.0h0M302.7 128.3h0M309.3 114.2h0M306.7 126.4h0M302.0 119.3h0M305.2 116.5h0M299.5 127.4h0M299.8 122.6h0M297.4 124.9h0M295.4 123.3h0M305.5 124.9h0M311.6 121.8h0M296.7 126.5h0M304.7 123.6h0M308.5 129.5h0M291.1 126.3h0M296.4 121.4h0M310.1 118.3h0M307.9 119.7h0M292.5 126.6h0M292.2 126.7h0M306.5 128.5h0M295.3 123.3h0M308.0 117.7h0M292.4 130.0h0M294.2 124.9h0M308.0 113.8h0M303.7 122.9h0M294.2 129.1h0M299.4 124.2h0M296.6 122.0h0M277.3 129.0h0M305.2 121.4h0M296.9 129.5h0M291.6 130.6h0M302.1 128.6h0M313.8 93.9h0M295.0 127.2h0M297.5 125.7h0M304.3 124.2h0M294.3 123.5h0M305.3 123.6h0M304.1 128.1h0M304.7 123.7h0M288.5 126.0h0M290.0 127.3h0M311.6 109.4h0M305.3 121.5h0M277.0 128.4h0M304.2 117.6h0M307.9 117.0h0M310.8 112.1h0M299.1 126.5h0M299.4 126.7h0M308.2 112.3h0M310.0 109.3h0M310.5 116.3h0M301.0 124.4h0M299.3 129.9h0M299.0 130.3h0M311.2 117.6h0M299.7 123.2h0M309.9 106.4h0M310.3 109.1h0M308.4 110.4h0M295.2 129.9h0M311.7 123.1h0M313.2 106.6h0M305.2 119.3h0M293.1 126.4h0M299.5 121.0h0M308.5 114.7h0M295.5 124.7h0M309.7 121.6h0M292.0 126.3h0M298.6 130.1h0M294.7 130.2h0M282.2 129.9h0M301.9 120.5h0M310.0 130.7h0M294.7 129.5h0M305.5 119.4h0M309.1 110.7h0M296.9 122.9h0M264.4 130.8h0M300.8 120.9h0M312.4 124.1h0M297.1 127.0h0M308.7 112.1h0M293.4 126.4h0M304.5 127.6h0M279.9 131.1h0M303.8 124.0h0M303.2 126.0h0M299.1 127.4h0M301.7 118.9h0M309.1 115.4h0M305.9 122.2h0M299.4 125.3h0M290.8 131.0h0M295.3 123.0h0M298.0 124.4h0M305.7 117.4h0M313.0 55.1h0M313.6 53.8h0M309.2 60.2h0M313.6 62.1h0M312.3 66.0h0M311.1 68.5h0M309.2 71.7h0M310.4 73.0h0M313.6 73.0h0M309.2 74.9h0M311.7 79.4h0M313.6 80.0h0M313.6 85.7h0M311.1 89.6h0M309.8 94.7h0M311.7 96.0h0M306.6 99.8h0M306.0 103.6h0M309.2 106.2h0M310.5 101.0h0M312.5 92.0h0M308.5 98.0h0M311.0 84.0h0M312.2 104.0h0M313.2 108.0h0M308.0 108.5h0M310.2 111.0h0M312.4 13.6h0M313.2 24.1h0M311.7 35.8h0M309.7 38.8h0M313.6 44.0h0M313.6 48.5h0M314.0 53.9h0M312.6 55.6h0M309.6 60.4h0M314.0 61.9h0M312.3 65.8h0M311.1 68.8h0M313.5 72.0h0M312.8 76.0h0M313.6 80.0h0M311.5 84.0h0M313.0 88.0h0M306.5 100.0h0M306.9 104.0h0M305.0 110.0h0M302.5 115.0h0M299.5 118.0h0M296.0 121.0h0M287.0 125.0h0M283.0 126.5h0M272.0 128.8h0M268.0 129.5h0M276.5 127.5h0M280.0 128.0h0M252.6 130.0h0M253.8 130.4h0M254.9 130.5h0M256.1 130.7h0M257.2 131.1h0M258.4 131.4h0M259.5 131.6h0M260.6 131.9h0M261.8 132.1h0" stroke="#6cc644" stroke-width="2.2" stroke-linecap="round" fill="none"/>
<path d="M330.6 116.1h0M329.6 114.4h0M330.1 130.7h0M330.5 115.2h0M330.0 111.9h0M330.2 109.4h0M329.5 127.8h0M330.4 117.1h0M330.6 113.6h0M329.8 107.7h0M330.1 113.7h0M331.0 119.8h0M331.4 114.5h0M331.3 120.6h0M329.7 110.5h0M330.7 130.7h0M330.2 125.4h0M330.4 127.7h0M329.6 118.1h0M331.3 112.9h0M330.0 106.6h0M329.8 112.7h0M330.9 111.5h0M330.3 111.0h0M330.7 127.6h0M330.8 110.9h0M331.0 130.1h0M330.7 108.0h0M331.1 127.9h0M330.2 109.4h0M332.8 131.0h0M337.5 130.1h0M333.8 128.8h0M331.8 130.5h0M333.7 130.2h0M335.2 128.9h0M336.3 127.7h0M332.1 130.0h0M333.6 129.9h0M336.5 128.5h0M330.6 131.2h0M329.8 129.8h0M331.9 130.0h0M329.7 130.4h0M331.0 128.1h0M332.2 128.1h0M329.8 130.8h0M332.5 129.2h0M338.6 129.7h0M331.7 130.1h0M334.5 130.5h0M333.2 128.5h0M332.4 130.6h0M341.0 128.7h0M332.2 129.3h0M348.6 128.6h0M346.0 128.0h0M331.9 127.5h0M339.6 130.6h0M331.0 128.9h0M334.5 130.5h0M329.8 127.9h0M333.2 127.7h0M330.2 129.5h0M333.7 131.3h0M331.0 129.0h0M332.1 130.5h0M333.0 131.2h0M355.8 129.9h0M378.0 130.2h0M385.4 130.7h0M372.9 130.4h0M378.8 130.6h0M361.7 131.4h0M353.9 131.1h0M352.4 131.0h0M364.5 131.4h0M352.2 130.8h0M330.1 69.4h0M331.8 72.8h0M331.8 82.1h0M329.6 88.9h0M329.6 94.0h0M331.0 107.6h0M353.1 116.5h0M335.2 126.4h0M345.4 129.0h0M353.1 130.6h0M359.0 131.5h0M367.5 132.3h0M376.0 131.5h0M379.5 130.6h0M384.5 132.3h0M386.2 131.5h0" stroke="#ec2a1a" stroke-width="2.2" stroke-linecap="round" fill="none"/>
<path d="M253 133.1H388" stroke="#ffffff" stroke-opacity="0.6" stroke-width="0.45" stroke-dasharray="0.8 0.8"/>
<text transform="translate(234.4 153.6) scale(0.76 1)" class="b" font-size="10.5">C</text>
<path d="M241.5 163V280.3H380.5" stroke="#dde6f3" stroke-width="0.6" fill="none"/>
<text transform="translate(238.3 166.1) scale(1 1.2)" font-size="4.1" fill="#777" text-anchor="end">15</text>
<text transform="translate(238.3 182.6) scale(1 1.2)" font-size="4.1" fill="#777" text-anchor="end">10</text>
<text transform="translate(238.3 199.2) scale(1 1.2)" font-size="4.1" fill="#777" text-anchor="end">5</text>
<text transform="translate(238.3 215.7) scale(1 1.2)" font-size="4.1" fill="#777" text-anchor="end">0</text>
<text transform="translate(238.3 232.3) scale(1 1.2)" font-size="4.1" fill="#777" text-anchor="end">-5</text>
<text transform="translate(238.3 248.8) scale(1 1.2)" font-size="4.1" fill="#777" text-anchor="end">-10</text>
<text transform="translate(238.3 265.3) scale(1 1.2)" font-size="4.1" fill="#777" text-anchor="end">-15</text>
<text transform="translate(238.3 281.9) scale(1 1.2)" font-size="4.1" fill="#777" text-anchor="end">-20</text>
<text transform="translate(258.4 286.8) scale(1 1.2)" font-size="4.1" fill="#777" text-anchor="middle">-10</text>
<text transform="translate(278.3 286.8) scale(1 1.2)" font-size="4.1" fill="#777" text-anchor="middle">-5</text>
<text transform="translate(298.6 286.8) scale(1 1.2)" font-size="4.1" fill="#777" text-anchor="middle">0</text>
<text transform="translate(319 286.8) scale(1 1.2)" font-size="4.1" fill="#777" text-anchor="middle">5</text>
<text transform="translate(339.5 286.8) scale(1 1.2)" font-size="4.1" fill="#777" text-anchor="middle">10</text>
<text transform="translate(360 286.8) scale(1 1.2)" font-size="4.1" fill="#777" text-anchor="middle">15</text>
<text transform="translate(378.2 286.8) scale(1 1.2)" font-size="4.1" fill="#777" text-anchor="middle">20</text>
<text x="311.2" y="299.8" font-size="4.7" fill="#666" text-anchor="middle">PC1 (35.12%)</text>
<text transform="translate(227.6 222) rotate(-90)" font-size="4.7" fill="#777" text-anchor="middle">PC2 (23.03%)</text>
<circle cx="254.8" cy="171.9" r="2.75" fill="#5bd84a"/>
<circle cx="276" cy="187.7" r="2.75" fill="#5bd84a"/>
<circle cx="243.9" cy="269.4" r="2.75" fill="#5bd84a"/>
<path d="M347.2 222.1L350.3 225.2L347.2 228.29999999999998L344.09999999999997 225.2Z" fill="#ee3c1e"/>
<path d="M371 211.70000000000002L374.1 214.8L371 217.9L367.9 214.8Z" fill="#ee3c1e"/>
<circle cx="328.4" cy="169.9" r="2.4" fill="#5bd84a"/>
<text x="332.6" y="172.3" class="b" font-size="6.4" fill="#444">Control</text>
<path d="M363.2 167.29999999999998L366.0 170.1L363.2 172.9L360.4 170.1Z" fill="#ee3c3c"/>
<text x="368.3" y="172.3" class="b" font-size="6.4" fill="#444">Mel</text>
<text transform="translate(5.8 308.0) scale(0.76 1)" class="b" font-size="10.5">D</text>
<text transform="translate(185 310) scale(1 1.3)" class="b" font-size="5.3" fill="#222" text-anchor="middle">GO Enrichment</text>
<text x="116.9" y="319.45" class="b" font-size="4.0" fill="#222" text-anchor="end">antioxidant activity</text>
<rect x="120" y="316.95" width="18.00" height="2.1" fill="#4cc94c"/>
<text x="116.9" y="325.75" class="b" font-size="4.0" fill="#222" text-anchor="end">NADH dehydrogenase activity</text>
<rect x="120" y="323.25" width="21.30" height="2.1" fill="#4cc94c"/>
<text x="116.9" y="332.06" class="b" font-size="4.0" fill="#222" text-anchor="end">cadherin binding</text>
<rect x="120" y="329.56" width="73.00" height="2.1" fill="#4cc94c"/>
<text x="116.9" y="338.37" class="b" font-size="4.0" fill="#222" text-anchor="end">cell adhesion molecule binding</text>
<rect x="120" y="335.87" width="83.00" height="2.1" fill="#4cc94c"/>
<text x="116.9" y="344.67" class="b" font-size="4.0" fill="#222" text-anchor="end">oxidoreductase complex</text>
<rect x="120" y="342.17" width="37.40" height="2.1" fill="#3a7bd0"/>
<text x="116.9" y="350.97" class="b" font-size="4.0" fill="#222" text-anchor="end">mitochondrial respiratory chain</text>
<rect x="120" y="348.47" width="41.70" height="2.1" fill="#3a7bd0"/>
<text x="116.9" y="357.28" class="b" font-size="4.0" fill="#222" text-anchor="end">cell-substrate junction</text>
<rect x="120" y="354.78" width="92.60" height="2.1" fill="#3a7bd0"/>
<text x="116.9" y="363.58" class="b" font-size="4.0" fill="#222" text-anchor="end">mitochondrial protein complex</text>
<rect x="120" y="361.08" width="110.40" height="2.1" fill="#3a7bd0"/>
<text x="116.9" y="369.89" class="b" font-size="4.0" fill="#222" text-anchor="end">embryo implantation</text>
<rect x="120" y="367.39" width="9.00" height="2.1" fill="#e8793a"/>
<text x="116.9" y="376.19" class="b" font-size="4.0" fill="#222" text-anchor="end">positive regulation of protein ubiquitination</text>
<rect x="120" y="373.69" width="20.50" height="2.1" fill="#e8793a"/>
<text x="116.9" y="382.50" class="b" font-size="4.0" fill="#222" text-anchor="end">planar cell polarity pathway</text>
<rect x="120" y="380.00" width="27.90" height="2.1" fill="#e8793a"/>
<text x="116.9" y="388.81" class="b" font-size="4.0" fill="#222" text-anchor="end">NIK/NF-kappaB signaling</text>
<rect x="120" y="386.31" width="30.00" height="2.1" fill="#e8793a"/>
<text x="116.9" y="395.11" class="b" font-size="4.0" fill="#222" text-anchor="end">response to reactive oxygen species</text>
<rect x="120" y="392.61" width="32.80" height="2.1" fill="#e8793a"/>
<text x="116.9" y="401.42" class="b" font-size="4.0" fill="#222" text-anchor="end">T cell receptor signaling pathway</text>
<rect x="120" y="398.92" width="35.70" height="2.1" fill="#e8793a"/>
<text x="116.9" y="407.72" class="b" font-size="4.0" fill="#222" text-anchor="end">in utero embryonic development</text>
<rect x="120" y="405.22" width="38.30" height="2.1" fill="#e8793a"/>
<text x="116.9" y="414.02" class="b" font-size="4.0" fill="#222" text-anchor="end">ATP synthesis coupled electron transport</text>
<rect x="120" y="411.52" width="47.00" height="2.1" fill="#e8793a"/>
<text x="116.9" y="420.33" class="b" font-size="4.0" fill="#222" text-anchor="end">mitochondrial gene expression</text>
<rect x="120" y="417.83" width="52.80" height="2.1" fill="#e8793a"/>
<text x="116.9" y="426.63" class="b" font-size="4.0" fill="#222" text-anchor="end">response to hypoxia</text>
<rect x="120" y="424.13" width="56.80" height="2.1" fill="#e8793a"/>
<text x="116.9" y="432.94" class="b" font-size="4.0" fill="#222" text-anchor="end">oxidative phosphorylation</text>
<rect x="120" y="430.44" width="66.60" height="2.1" fill="#e8793a"/>
<text x="116.9" y="439.24" class="b" font-size="4.0" fill="#222" text-anchor="end">regulation of cell cycle phase transition</text>
<rect x="120" y="436.74" width="68.10" height="2.1" fill="#e8793a"/>
<text x="116.9" y="445.55" class="b" font-size="4.0" fill="#222" text-anchor="end">activation of immune response</text>
<rect x="120" y="443.05" width="69.80" height="2.1" fill="#e8793a"/>
<text x="116.9" y="451.85" class="b" font-size="4.0" fill="#222" text-anchor="end">autophagy</text>
<rect x="120" y="449.35" width="77.00" height="2.1" fill="#e8793a"/>
<rect x="27.2" y="315.1" width="3.9" height="24.9" fill="#46dc3c"/>
<rect x="27.2" y="340" width="3.9" height="25" fill="#3838c8"/>
<rect x="27.2" y="365" width="3.9" height="88" fill="#e8742a"/>
<text transform="translate(24.9 328.8) rotate(-90)" class="b" font-size="5" fill="#222" text-anchor="middle">MF</text>
<text transform="translate(24.9 352.3) rotate(-90)" class="b" font-size="5" fill="#222" text-anchor="middle">CC</text>
<text transform="translate(24.9 405.7) rotate(-90)" class="b" font-size="5" fill="#222" text-anchor="middle">BP</text>
<path d="M119.5 315.5V453.5H240.5M119.5 315.5H311.7V453.5H240.5V315.5" stroke="#2a2a2a" stroke-width="0.9" fill="none"/>
<path d="M237.9 321.55H240.5M237.9 327.86H240.5M237.9 334.16H240.5M237.9 340.47H240.5M237.9 346.77H240.5M237.9 353.08H240.5M237.9 359.38H240.5M237.9 365.69H240.5M237.9 371.99H240.5M237.9 378.30H240.5M237.9 384.60H240.5M237.9 390.91H240.5M237.9 397.21H240.5M237.9 403.52H240.5M237.9 409.82H240.5M237.9 416.13H240.5M237.9 422.43H240.5M237.9 428.74H240.5M237.9 435.04H240.5M237.9 441.35H240.5M237.9 447.65H240.5" stroke="#333" stroke-width="0.6"/>
<text x="119.5" y="460" class="b" font-size="3.9" fill="#333" text-anchor="middle">0</text>
<path d="M119.5 453.5v1.2" stroke="#333" stroke-width="0.6"/>
<text x="143.5" y="460" class="b" font-size="3.9" fill="#333" text-anchor="middle">30</text>
<path d="M143.5 453.5v1.2" stroke="#333" stroke-width="0.6"/>
<text x="167.4" y="460" class="b" font-size="3.9" fill="#333" text-anchor="middle">60</text>
<path d="M167.4 453.5v1.2" stroke="#333" stroke-width="0.6"/>
<text x="191.4" y="460" class="b" font-size="3.9" fill="#333" text-anchor="middle">90</text>
<path d="M191.4 453.5v1.2" stroke="#333" stroke-width="0.6"/>
<text x="215.3" y="460" class="b" font-size="3.9" fill="#333" text-anchor="middle">120</text>
<path d="M215.3 453.5v1.2" stroke="#333" stroke-width="0.6"/>
<text transform="translate(170 468.6) scale(1 1.3)" class="b" font-size="5.15" fill="#222" text-anchor="middle">Gene Number</text>
<circle cx="250.6" cy="318.9" r="1.0" fill="#f41a1a"/>
<circle cx="252.6" cy="325.2" r="1.3" fill="#f41a1a"/>
<circle cx="282.2" cy="331.3" r="2.5" fill="#f41a1a"/>
<circle cx="287.7" cy="337.6" r="2.6" fill="#f41a1a"/>
<circle cx="260.9" cy="343.7" r="1.8" fill="#f41a1a"/>
<circle cx="263.4" cy="349.9" r="1.9" fill="#f41a1a"/>
<circle cx="291.4" cy="356.2" r="2.8" fill="#f41a1a"/>
<circle cx="301.2" cy="362.5" r="3.2" fill="#f41a1a"/>
<circle cx="245.8" cy="368.9" r="0.8" fill="#f41a1a"/>
<circle cx="252.1" cy="375.2" r="1.4" fill="#f41a1a"/>
<circle cx="256.2" cy="381.4" r="1.5" fill="#f41a1a"/>
<circle cx="257.8" cy="387.7" r="1.6" fill="#f41a1a"/>
<circle cx="259.1" cy="394.0" r="1.6" fill="#f07070"/>
<circle cx="261.0" cy="400.2" r="1.7" fill="#f41a1a"/>
<circle cx="262.4" cy="406.5" r="1.8" fill="#44dd33"/>
<circle cx="267.5" cy="412.8" r="2.2" fill="#f41a1a"/>
<circle cx="270.6" cy="419.1" r="2.2" fill="#f41a1a"/>
<circle cx="273.3" cy="425.4" r="2.3" fill="#f41a1a"/>
<circle cx="278.8" cy="431.6" r="2.5" fill="#f41a1a"/>
<circle cx="279.6" cy="437.9" r="2.5" fill="#f41a1a"/>
<circle cx="280.5" cy="444.2" r="2.5" fill="#f41a1a"/>
<circle cx="284.8" cy="450.5" r="2.7" fill="#f41a1a"/>
<text x="240.5" y="460" class="b" font-size="3.9" fill="#333" text-anchor="middle">0.00</text>
<path d="M240.5 453.5v1.2" stroke="#333" stroke-width="0.6"/>
<text x="258.1" y="460" class="b" font-size="3.9" fill="#333" text-anchor="middle">0.02</text>
<path d="M258.1 453.5v1.2" stroke="#333" stroke-width="0.6"/>
<text x="275.6" y="460" class="b" font-size="3.9" fill="#333" text-anchor="middle">0.04</text>
<path d="M275.6 453.5v1.2" stroke="#333" stroke-width="0.6"/>
<text x="293.2" y="460" class="b" font-size="3.9" fill="#333" text-anchor="middle">0.06</text>
<path d="M293.2 453.5v1.2" stroke="#333" stroke-width="0.6"/>
<text x="310.6" y="460" class="b" font-size="3.9" fill="#333" text-anchor="middle">0.08</text>
<path d="M310.6 453.5v1.2" stroke="#333" stroke-width="0.6"/>
<text transform="translate(277.3 469.0) scale(1 1.3)" class="b" font-size="5.3" fill="#222" text-anchor="middle">Gene Ratio</text>
<text transform="translate(322.6 354.4) scale(1 1.3)" class="b" font-size="4.4" fill="#222">Count</text>
<circle cx="326.0" cy="359.5" r="0.8" fill="#111"/>
<text x="331.6" y="361.1" font-size="4.6" fill="#222">12.00</text>
<circle cx="326.0" cy="365.0" r="1.75" fill="#111"/>
<text x="331.6" y="366.6" font-size="4.6" fill="#222">48.51</text>
<circle cx="326.0" cy="371.6" r="3.1" fill="#111"/>
<text x="331.6" y="373.2" font-size="4.6" fill="#222">137.01</text>
<text transform="translate(322.6 396.6) scale(1 1.3)" class="b" font-size="4.4" fill="#222">Padjust</text>
<defs><linearGradient id="dpg" x1="0" y1="0" x2="0" y2="1"><stop offset="0" stop-color="#22dd22"/><stop offset="0.55" stop-color="#ffffff"/><stop offset="1" stop-color="#ee1c1c"/></linearGradient><linearGradient id="epg" x1="0" y1="0" x2="0" y2="1"><stop offset="0" stop-color="#33e033"/><stop offset="0.5" stop-color="#e2e050"/><stop offset="0.75" stop-color="#eb9a35"/><stop offset="1" stop-color="#ee2020"/></linearGradient></defs>
<rect x="323" y="400.3" width="6.4" height="40.4" fill="url(#dpg)"/>
<text x="330.7" y="408.6" font-size="4.2" fill="#222">0.30</text>
<text x="330.7" y="414.4" font-size="4.2" fill="#222">0.25</text>
<text x="330.7" y="419.7" font-size="4.2" fill="#222">0.20</text>
<text x="330.7" y="425.2" font-size="4.2" fill="#222">0.15</text>
<text x="330.7" y="431.0" font-size="4.2" fill="#222">0.10</text>
<text x="330.7" y="436.7" font-size="4.2" fill="#222">0.05</text>
<rect x="340" y="300" width="345" height="170" fill="#fff"/>
<text transform="translate(349.9 308.0) scale(0.76 1)" class="b" font-size="10.5">E</text>
<text transform="translate(522.5 306.8) scale(1 1.3)" class="b" font-size="5.65" fill="#222" text-anchor="middle">KEGG Enrichment</text>
<text x="425.7" y="322.55" class="b" font-size="4.4" fill="#222" text-anchor="end">Tight junction</text>
<rect x="429" y="319.35" width="52.00" height="3.3" fill="#e8793a"/>
<text x="425.7" y="332.23" class="b" font-size="4.4" fill="#222" text-anchor="end">Ubiquitin mediated proteolysis</text>
<rect x="429" y="329.03" width="55.30" height="3.3" fill="#e8793a"/>
<text x="425.7" y="341.91" class="b" font-size="4.4" fill="#222" text-anchor="end">Cysteine and methionine metabolism</text>
<rect x="429" y="338.71" width="21.90" height="3.3" fill="#e8793a"/>
<text x="425.7" y="351.59" class="b" font-size="4.4" fill="#222" text-anchor="end">Oocyte meiosis</text>
<rect x="429" y="348.39" width="47.00" height="3.3" fill="#e8793a"/>
<text x="425.7" y="361.27" class="b" font-size="4.4" fill="#222" text-anchor="end">Autophagy</text>
<rect x="429" y="358.07" width="14.80" height="3.3" fill="#e8793a"/>
<text x="425.7" y="370.95" class="b" font-size="4.4" fill="#222" text-anchor="end">Cell cycle</text>
<rect x="429" y="367.75" width="55.30" height="3.3" fill="#e8793a"/>
<text x="425.7" y="380.63" class="b" font-size="4.4" fill="#222" text-anchor="end">Base excision repair</text>
<rect x="429" y="377.43" width="22.90" height="3.3" fill="#e8793a"/>
<text x="425.7" y="390.31" class="b" font-size="4.4" fill="#222" text-anchor="end">Glutathione metabolism</text>
<rect x="429" y="387.11" width="26.70" height="3.3" fill="#e8793a"/>
<text x="425.7" y="399.99" class="b" font-size="4.4" fill="#222" text-anchor="end">Nucleotide metabolism</text>
<rect x="429" y="396.79" width="43.80" height="3.3" fill="#e8793a"/>
<text x="425.7" y="409.67" class="b" font-size="4.4" fill="#222" text-anchor="end">p53 signaling pathway</text>
<rect x="429" y="406.47" width="37.00" height="3.3" fill="#e8793a"/>
<text x="425.7" y="419.35" class="b" font-size="4.4" fill="#222" text-anchor="end">Citrate cycle (TCA cycle)</text>
<rect x="429" y="416.15" width="21.90" height="3.3" fill="#e8793a"/>
<text x="425.7" y="429.03" class="b" font-size="4.4" fill="#222" text-anchor="end">Pyruvate metabolism</text>
<rect x="429" y="425.83" width="26.70" height="3.3" fill="#e8793a"/>
<text x="425.7" y="438.71" class="b" font-size="4.4" fill="#222" text-anchor="end">Spliceosome</text>
<rect x="429" y="435.51" width="92.50" height="3.3" fill="#e8793a"/>
<text x="425.7" y="448.39" class="b" font-size="4.4" fill="#222" text-anchor="end">Oxidative phosphorylation</text>
<rect x="429" y="445.19" width="121.20" height="3.3" fill="#e8793a"/>
<path d="M428.5 314.5V451.5H561.5M428.5 314.5H646.5V451.5H561.5V314.5" stroke="#2a2a2a" stroke-width="0.9" fill="none"/>
<path d="M558.9 318.70H561.5M558.9 328.21H561.5M558.9 337.73H561.5M558.9 347.25H561.5M558.9 356.76H561.5M558.9 366.27H561.5M558.9 375.79H561.5M558.9 385.31H561.5M558.9 394.82H561.5M558.9 404.33H561.5M558.9 413.85H561.5M558.9 423.37H561.5M558.9 432.88H561.5M558.9 442.39H561.5" stroke="#333" stroke-width="0.6"/>
<text x="428.7" y="458.6" class="b" font-size="4.4" fill="#333" text-anchor="middle">0</text>
<path d="M428.7 451.5v1.2" stroke="#333" stroke-width="0.6"/>
<text x="445.5" y="458.6" class="b" font-size="4.4" fill="#333" text-anchor="middle">10</text>
<path d="M445.5 451.5v1.2" stroke="#333" stroke-width="0.6"/>
<text x="462.4" y="458.6" class="b" font-size="4.4" fill="#333" text-anchor="middle">20</text>
<path d="M462.4 451.5v1.2" stroke="#333" stroke-width="0.6"/>
<text x="479.2" y="458.6" class="b" font-size="4.4" fill="#333" text-anchor="middle">30</text>
<path d="M479.2 451.5v1.2" stroke="#333" stroke-width="0.6"/>
<text x="496.0" y="458.6" class="b" font-size="4.4" fill="#333" text-anchor="middle">40</text>
<path d="M496.0 451.5v1.2" stroke="#333" stroke-width="0.6"/>
<text x="512.9" y="458.6" class="b" font-size="4.4" fill="#333" text-anchor="middle">50</text>
<path d="M512.9 451.5v1.2" stroke="#333" stroke-width="0.6"/>
<text x="529.7" y="458.6" class="b" font-size="4.4" fill="#333" text-anchor="middle">60</text>
<path d="M529.7 451.5v1.2" stroke="#333" stroke-width="0.6"/>
<text x="546.5" y="458.6" class="b" font-size="4.4" fill="#333" text-anchor="middle">70</text>
<path d="M546.5 451.5v1.2" stroke="#333" stroke-width="0.6"/>
<text transform="translate(479 468.8) scale(1 1.3)" class="b" font-size="5.6" fill="#222" text-anchor="middle">Gene Number</text>
<text x="563.5" y="458.6" class="b" font-size="4.4" fill="#333" text-anchor="middle">0.00</text>
<path d="M563.5 451.5v1.2" stroke="#333" stroke-width="0.6"/>
<text x="583.8" y="458.6" class="b" font-size="4.4" fill="#333" text-anchor="middle">0.02</text>
<path d="M583.8 451.5v1.2" stroke="#333" stroke-width="0.6"/>
<text x="604.0" y="458.6" class="b" font-size="4.4" fill="#333" text-anchor="middle">0.04</text>
<path d="M604.0 451.5v1.2" stroke="#333" stroke-width="0.6"/>
<text x="624.2" y="458.6" class="b" font-size="4.4" fill="#333" text-anchor="middle">0.06</text>
<path d="M624.2 451.5v1.2" stroke="#333" stroke-width="0.6"/>
<text x="644.5" y="458.6" class="b" font-size="4.4" fill="#333" text-anchor="middle">0.08</text>
<path d="M644.5 451.5v1.2" stroke="#333" stroke-width="0.6"/>
<text transform="translate(602.2 468.8) scale(1 1.3)" class="b" font-size="5.6" fill="#222" text-anchor="middle">Gene Ratio</text>
<circle cx="592.2" cy="323.7" r="2.9" fill="#44ee22"/>
<circle cx="594.3" cy="332.9" r="2.9" fill="#44ee22"/>
<circle cx="574.4" cy="342.5" r="1.9" fill="#e0e055"/>
<circle cx="589.3" cy="352.1" r="2.9" fill="#e8cf4a"/>
<circle cx="570.5" cy="361.3" r="1.5" fill="#e8a332"/>
<circle cx="594.0" cy="370.9" r="3.2" fill="#f42a1c"/>
<circle cx="575.5" cy="380.5" r="2.0" fill="#f42a1c"/>
<circle cx="577.3" cy="389.8" r="2.0" fill="#f42a1c"/>
<circle cx="587.3" cy="399.4" r="2.4" fill="#f42a1c"/>
<circle cx="583.4" cy="408.8" r="2.3" fill="#f42a1c"/>
<circle cx="574.4" cy="418.2" r="1.8" fill="#f42a1c"/>
<circle cx="577.3" cy="427.8" r="2.0" fill="#f42a1c"/>
<circle cx="615.9" cy="437.2" r="4.0" fill="#f42a1c"/>
<circle cx="632.9" cy="446.6" r="4.7" fill="#f42a1c"/>
<text transform="translate(659.6 333.7) scale(1 1.3)" class="b" font-size="4.4" fill="#222">Count</text>
<circle cx="664.3" cy="339.9" r="1.4" fill="#111"/>
<text x="672.1" y="341.5" font-size="4.6" fill="#222">9.00</text>
<circle cx="664.3" cy="346.8" r="2.8" fill="#111"/>
<text x="672.1" y="348.4" font-size="4.6" fill="#222">25.46</text>
<circle cx="664.3" cy="355.9" r="4.4" fill="#111"/>
<text x="672.1" y="357.5" font-size="4.6" fill="#222">72.00</text>
<text transform="translate(662.9 391.9) scale(1 1.3)" class="b" font-size="4.4" fill="#222">Padjust</text>
<rect x="662.9" y="395.9" width="6.9" height="46" fill="url(#epg)"/>
<text x="671.1" y="403.0" font-size="4.6" fill="#222">0.45</text>
<text x="671.1" y="411.3" font-size="4.6" fill="#222">0.35</text>
<text x="671.1" y="419.5" font-size="4.6" fill="#222">0.25</text>
<text x="671.1" y="429.7" font-size="4.6" fill="#222">0.15</text>
<text x="671.1" y="438.8" font-size="4.6" fill="#222">0.05</text>
<text transform="translate(413.9 10.65) scale(0.76 1)" class="b" font-size="10.5">F</text>
<text x="486.9" y="17.3" font-size="4.63" fill="#222" text-anchor="middle">[KEGG] Oxidative Phosphorylation</text>
<path d="M431.6 67.75H542.3M431.6 59.50H542.3M431.6 51.25H542.3M431.6 43.00H542.3M431.6 34.75H542.3M431.6 26.50H542.3M452.29 18.5V79.4M472.98 18.5V79.4M493.67 18.5V79.4M514.37 18.5V79.4M535.06 18.5V79.4" stroke="#ebebeb" stroke-width="0.45" fill="none"/>
<path d="M431.6 97.70H542.3M431.6 100.85H542.3M431.6 104.00H542.3M431.6 107.15H542.3M431.6 110.30H542.3M431.6 113.45H542.3M431.6 116.60H542.3M431.6 119.75H542.3M431.6 122.90H542.3M431.6 126.05H542.3M452.29 96.2V128.5M472.98 96.2V128.5M493.67 96.2V128.5M514.37 96.2V128.5M535.06 96.2V128.5" stroke="#ebebeb" stroke-width="0.45" fill="none"/>
<path d="M431.6 76.00H542.3" stroke="#a0a0a0" stroke-width="0.5" stroke-dasharray="1.5 1.3"/>
<polyline points="431.90,76.20 433.80,69.00 435.10,58.80 436.40,47.30 437.40,40.30 438.70,39.00 439.60,37.10 440.50,32.00 442.10,30.80 443.40,27.60 444.70,26.90 445.90,23.40 447.20,22.80 449.10,23.40 451.00,22.50 453.60,21.80 454.90,21.60 456.80,22.50 459.30,23.40 461.30,23.40 464.40,25.00 468.30,26.30 472.10,28.50 475.90,31.40 478.00,33.10 485.70,38.40 493.30,44.20 501.00,49.90 509.30,55.30 516.30,60.10 522.70,64.60 531.00,69.70 538.00,74.20 541.20,76.10 542.20,76.10" stroke="#5fc8d9" stroke-width="0.75" fill="none" stroke-linejoin="round"/>
<rect x="433.10" y="79.4" width="4.30" height="12.6" fill="#111"/>
<rect x="437.40" y="79.4" width="0.90" height="12.6" fill="#444"/>
<rect x="438.30" y="79.4" width="0.50" height="12.6" fill="#bbb"/>
<rect x="438.80" y="79.4" width="2.20" height="12.6" fill="#1a1a1a"/>
<rect x="441.00" y="79.4" width="3.00" height="12.6" fill="#6a6a6a"/>
<rect x="444.00" y="79.4" width="3.50" height="12.6" fill="#888"/>
<rect x="447.50" y="79.4" width="1.30" height="12.6" fill="#eee"/>
<rect x="448.80" y="79.4" width="4.40" height="12.6" fill="#999"/>
<rect x="453.20" y="79.4" width="0.90" height="12.6" fill="#555"/>
<rect x="454.10" y="79.4" width="3.90" height="12.6" fill="#aaa"/>
<rect x="458.00" y="79.4" width="0.90" height="12.6" fill="#f0f0f0"/>
<rect x="458.90" y="79.4" width="3.10" height="12.6" fill="#999"/>
<rect x="462.00" y="79.4" width="1.70" height="12.6" fill="#f5f5f5"/>
<rect x="463.70" y="79.4" width="1.30" height="12.6" fill="#555"/>
<rect x="465.00" y="79.4" width="2.70" height="12.6" fill="#888"/>
<rect x="467.70" y="79.4" width="1.30" height="12.6" fill="#f5f5f5"/>
<rect x="469.00" y="79.4" width="4.80" height="12.6" fill="#bbb"/>
<rect x="476.40" y="79.4" width="1.30" height="12.6" fill="#999"/>
<rect x="477.70" y="79.4" width="1.30" height="12.6" fill="#ddd"/>
<rect x="479.00" y="79.4" width="1.40" height="12.6" fill="#999"/>
<rect x="480.40" y="79.4" width="1.30" height="12.6" fill="#ccc"/>
<rect x="481.70" y="79.4" width="0.90" height="12.6" fill="#666"/>
<rect x="484.70" y="79.4" width="2.10" height="12.6" fill="#999"/>
<rect x="486.80" y="79.4" width="0.80" height="12.6" fill="#555"/>
<rect x="487.60" y="79.4" width="3.10" height="12.6" fill="#c8c8c8"/>
<rect x="490.85" y="79.4" width="0.50" height="12.6" fill="#666"/>
<rect x="495.05" y="79.4" width="0.50" height="12.6" fill="#555"/>
<rect x="497.35" y="79.4" width="0.50" height="12.6" fill="#666"/>
<rect x="508.20" y="79.4" width="2.20" height="12.6" fill="#bbb"/>
<rect x="509.35" y="79.4" width="0.50" height="12.6" fill="#777"/>
<rect x="523.25" y="79.4" width="0.50" height="12.6" fill="#555"/>
<rect x="531.15" y="79.4" width="0.50" height="12.6" fill="#555"/>
<rect x="538.15" y="79.4" width="0.50" height="12.6" fill="#999"/>
<rect x="431.60" y="92.00" width="60.05" height="4.20" fill="#d93131"/>
<rect x="491.60" y="92.00" width="22.35" height="4.20" fill="#ec684e"/>
<rect x="513.90" y="92.00" width="9.65" height="4.20" fill="#f1b7a0"/>
<rect x="523.50" y="92.00" width="7.05" height="4.20" fill="#f8ebe2"/>
<rect x="530.50" y="92.00" width="2.25" height="4.20" fill="#fbf9f8"/>
<rect x="532.70" y="92.00" width="4.95" height="4.20" fill="#b0d0ec"/>
<rect x="537.60" y="92.00" width="4.75" height="4.20" fill="#3d7cc0"/>
<polygon points="431.60,107.15 432.98,107.31 434.37,107.46 435.75,107.61 437.13,107.75 438.52,107.89 439.90,108.03 441.29,108.17 442.67,108.30 444.05,108.42 445.44,108.55 446.82,108.67 448.21,108.78 449.59,108.89 450.97,109.00 452.36,109.11 453.74,109.21 455.12,109.30 456.51,109.40 457.89,109.48 459.27,109.57 460.66,109.65 462.04,109.72 463.43,109.80 464.81,109.86 466.19,109.93 467.58,109.99 468.96,110.04 470.35,110.09 471.73,110.13 473.11,110.17 474.50,110.21 475.88,110.24 477.26,110.26 478.65,110.28 480.03,110.30 481.41,110.30 482.80,110.30 484.18,110.30 485.57,110.30 486.95,110.30 488.33,110.30 489.72,110.30 491.10,110.30 492.49,110.30 493.87,110.30 495.25,110.30 496.64,110.30 498.02,110.30 499.40,110.30 500.79,110.30 502.17,110.30 503.55,110.30 504.94,110.30 506.32,110.30 507.71,110.30 509.09,110.30 510.47,110.30 511.86,110.30 513.24,110.30 514.62,110.30 516.01,110.30 517.39,110.30 518.78,110.30 520.16,110.30 521.54,110.30 522.93,110.30 524.31,110.30 525.69,110.30 527.08,110.30 528.46,110.30 529.85,110.30 531.23,110.30 532.61,110.30 534.00,110.30 535.38,110.30 536.76,110.30 538.15,110.30 539.53,110.30 540.92,110.30 542.30,110.30 542.30,118.30 540.92,116.15 539.53,114.58 538.15,113.52 536.76,112.89 535.38,112.61 534.00,112.52 532.61,112.45 531.23,112.38 529.85,112.31 528.46,112.24 527.08,112.17 525.69,112.11 524.31,112.04 522.93,111.97 521.54,111.90 520.16,111.84 518.78,111.77 517.39,111.71 516.01,111.64 514.62,111.58 513.24,111.51 511.86,111.45 510.47,111.39 509.09,111.33 507.71,111.27 506.32,111.21 504.94,111.15 503.55,111.09 502.17,111.03 500.79,110.97 499.40,110.91 498.02,110.86 496.64,110.80 495.25,110.75 493.87,110.69 492.49,110.64 491.10,110.59 489.72,110.54 488.33,110.49 486.95,110.45 485.57,110.41 484.18,110.36 482.80,110.33 481.41,110.30 480.03,110.30 478.65,110.30 477.26,110.30 475.88,110.30 474.50,110.30 473.11,110.30 471.73,110.30 470.35,110.30 468.96,110.30 467.58,110.30 466.19,110.30 464.81,110.30 463.43,110.30 462.04,110.30 460.66,110.30 459.27,110.30 457.89,110.30 456.51,110.30 455.12,110.30 453.74,110.30 452.36,110.30 450.97,110.30 449.59,110.30 448.21,110.30 446.82,110.30 445.44,110.30 444.05,110.30 442.67,110.30 441.29,110.30 439.90,110.30 438.52,110.30 437.13,110.30 435.75,110.30 434.37,110.30 432.98,110.30 431.60,110.30" fill="#cfcfcf"/>
<path d="M431.60 18.50H542.30V128.50H431.60ZM431.60 79.40H542.30M431.60 96.20H542.30" stroke="#333" stroke-width="0.6" fill="none"/>
<text x="428.3" y="77.40" font-size="4.0" fill="#1a1a1a" text-anchor="end">0.0</text>
<path d="M430.0 76.00H431.6" stroke="#333" stroke-width="0.5"/>
<text x="428.3" y="60.90" font-size="4.0" fill="#1a1a1a" text-anchor="end">0.2</text>
<path d="M430.0 59.50H431.6" stroke="#333" stroke-width="0.5"/>
<text x="428.3" y="44.40" font-size="4.0" fill="#1a1a1a" text-anchor="end">0.4</text>
<path d="M430.0 43.00H431.6" stroke="#333" stroke-width="0.5"/>
<text x="428.3" y="27.90" font-size="4.0" fill="#1a1a1a" text-anchor="end">0.6</text>
<path d="M430.0 26.50H431.6" stroke="#333" stroke-width="0.5"/>
<text x="428.7" y="99.25" font-size="4.4" fill="#222" text-anchor="end">2</text>
<path d="M430.0 97.70H431.6" stroke="#333" stroke-width="0.5"/>
<text x="428.7" y="105.55" font-size="4.4" fill="#222" text-anchor="end">1</text>
<path d="M430.0 104.00H431.6" stroke="#333" stroke-width="0.5"/>
<text x="428.7" y="111.85" font-size="4.4" fill="#222" text-anchor="end">0</text>
<path d="M430.0 110.30H431.6" stroke="#333" stroke-width="0.5"/>
<text x="428.7" y="118.15" font-size="4.4" fill="#222" text-anchor="end">&#8722;1</text>
<path d="M430.0 116.60H431.6" stroke="#333" stroke-width="0.5"/>
<text x="428.7" y="124.45" font-size="4.4" fill="#222" text-anchor="end">&#8722;2</text>
<path d="M430.0 122.90H431.6" stroke="#333" stroke-width="0.5"/>
<text x="431.6" y="135.8" font-size="4.7" fill="#222" text-anchor="middle">0</text>
<path d="M431.6 128.5v0.9" stroke="#333" stroke-width="0.45"/>
<text x="473.1" y="135.8" font-size="4.7" fill="#222" text-anchor="middle">5000</text>
<path d="M473.1 128.5v0.9" stroke="#333" stroke-width="0.45"/>
<text x="514.5" y="135.8" font-size="4.7" fill="#222" text-anchor="middle">10000</text>
<path d="M514.5 128.5v0.9" stroke="#333" stroke-width="0.45"/>
<text x="486.9" y="141.9" font-size="4.63" fill="#222" text-anchor="middle">Rank in Ordered Dataset</text>
<text transform="translate(419.6 49.3) rotate(-90)" font-size="4.7" fill="#333" text-anchor="middle">Enrichment Score</text>
<text transform="translate(419.6 112.7) rotate(-90)" font-size="4.6" fill="#333" text-anchor="middle">Ranked list metric</text>
<text x="540.7" y="23.8" font-size="3.95" fill="#222" text-anchor="end"><tspan font-style="italic">NES</tspan> = 3.862</text>
<text x="540.7" y="28.4" font-size="3.95" fill="#222" text-anchor="end"><tspan font-style="italic">Padj</tspan> &lt; 0.001</text>
<text x="540.7" y="33.0" font-size="3.95" fill="#222" text-anchor="end"><tspan font-style="italic">FDR</tspan> &lt; 0.001</text>
<text x="622.9" y="17.3" font-size="4.63" fill="#222" text-anchor="middle">[Reactome] Mitochondrial Translation</text>
<path d="M567.5 68.32H678.3M567.5 60.24H678.3M567.5 52.16H678.3M567.5 44.08H678.3M567.5 36.00H678.3M567.5 27.92H678.3M567.5 19.84H678.3M588.21 18.5V79.4M608.92 18.5V79.4M629.63 18.5V79.4M650.34 18.5V79.4M671.05 18.5V79.4" stroke="#ebebeb" stroke-width="0.45" fill="none"/>
<path d="M567.5 97.70H678.3M567.5 100.85H678.3M567.5 104.00H678.3M567.5 107.15H678.3M567.5 110.30H678.3M567.5 113.45H678.3M567.5 116.60H678.3M567.5 119.75H678.3M567.5 122.90H678.3M567.5 126.05H678.3M588.21 96.2V128.5M608.92 96.2V128.5M629.63 96.2V128.5M650.34 96.2V128.5M671.05 96.2V128.5" stroke="#ebebeb" stroke-width="0.45" fill="none"/>
<path d="M567.5 76.40H678.3" stroke="#a0a0a0" stroke-width="0.5" stroke-dasharray="1.5 1.3"/>
<polyline points="567.80,76.40 569.50,69.00 570.70,62.00 572.00,60.10 573.30,52.40 574.60,46.70 575.80,44.80 577.80,38.40 579.70,35.90 581.30,30.80 583.50,30.10 585.40,29.50 587.30,26.90 589.90,24.40 592.40,21.20 595.00,22.50 598.40,22.20 603.30,25.00 607.10,26.30 612.00,29.70 619.70,34.60 628.60,41.00 636.20,46.70 642.60,50.90 645.40,52.20 652.80,57.60 660.50,63.30 668.10,69.00 677.10,76.00 678.00,76.40" stroke="#5fc8d9" stroke-width="0.75" fill="none" stroke-linejoin="round"/>
<rect x="568.10" y="79.4" width="2.60" height="12.6" fill="#444"/>
<rect x="570.70" y="79.4" width="0.90" height="12.6" fill="#aaa"/>
<rect x="571.60" y="79.4" width="3.00" height="12.6" fill="#111"/>
<rect x="574.60" y="79.4" width="0.90" height="12.6" fill="#bbb"/>
<rect x="575.50" y="79.4" width="2.20" height="12.6" fill="#333"/>
<rect x="577.70" y="79.4" width="4.40" height="12.6" fill="#777"/>
<rect x="583.40" y="79.4" width="2.60" height="12.6" fill="#777"/>
<rect x="586.00" y="79.4" width="6.20" height="12.6" fill="#555"/>
<rect x="593.90" y="79.4" width="4.80" height="12.6" fill="#999"/>
<rect x="600.90" y="79.4" width="0.90" height="12.6" fill="#999"/>
<rect x="603.50" y="79.4" width="7.90" height="12.6" fill="#bbb"/>
<rect x="612.70" y="79.4" width="3.10" height="12.6" fill="#aaa"/>
<rect x="617.60" y="79.4" width="3.50" height="12.6" fill="#aaa"/>
<rect x="622.80" y="79.4" width="3.30" height="12.6" fill="#999"/>
<rect x="624.25" y="79.4" width="0.50" height="12.6" fill="#666"/>
<rect x="629.35" y="79.4" width="0.50" height="12.6" fill="#555"/>
<rect x="633.15" y="79.4" width="0.50" height="12.6" fill="#444"/>
<rect x="642.15" y="79.4" width="0.50" height="12.6" fill="#444"/>
<rect x="644.25" y="79.4" width="0.50" height="12.6" fill="#888"/>
<rect x="567.50" y="92.00" width="33.25" height="4.20" fill="#b82222"/>
<rect x="600.70" y="92.00" width="31.15" height="4.20" fill="#d93131"/>
<rect x="631.80" y="92.00" width="18.05" height="4.20" fill="#ec684e"/>
<rect x="649.80" y="92.00" width="6.15" height="4.20" fill="#f1b7a0"/>
<rect x="655.90" y="92.00" width="5.35" height="4.20" fill="#f8ebe2"/>
<rect x="661.20" y="92.00" width="4.35" height="4.20" fill="#fbf9f8"/>
<rect x="665.50" y="92.00" width="7.15" height="4.20" fill="#b0d0ec"/>
<rect x="672.60" y="92.00" width="5.75" height="4.20" fill="#3d7cc0"/>
<polygon points="567.50,107.15 568.88,107.31 570.27,107.46 571.65,107.61 573.04,107.75 574.42,107.89 575.81,108.03 577.20,108.17 578.58,108.30 579.97,108.42 581.35,108.55 582.74,108.67 584.12,108.78 585.50,108.89 586.89,109.00 588.27,109.11 589.66,109.21 591.04,109.30 592.43,109.40 593.81,109.48 595.20,109.57 596.59,109.65 597.97,109.72 599.36,109.80 600.74,109.86 602.12,109.93 603.51,109.99 604.89,110.04 606.28,110.09 607.66,110.13 609.05,110.17 610.43,110.21 611.82,110.24 613.20,110.26 614.59,110.28 615.98,110.30 617.36,110.30 618.75,110.30 620.13,110.30 621.51,110.30 622.90,110.30 624.28,110.30 625.67,110.30 627.05,110.30 628.44,110.30 629.82,110.30 631.21,110.30 632.60,110.30 633.98,110.30 635.37,110.30 636.75,110.30 638.13,110.30 639.52,110.30 640.90,110.30 642.29,110.30 643.67,110.30 645.06,110.30 646.44,110.30 647.83,110.30 649.21,110.30 650.60,110.30 651.98,110.30 653.37,110.30 654.75,110.30 656.14,110.30 657.52,110.30 658.91,110.30 660.29,110.30 661.68,110.30 663.06,110.30 664.45,110.30 665.83,110.30 667.22,110.30 668.61,110.30 669.99,110.30 671.38,110.30 672.76,110.30 674.14,110.30 675.53,110.30 676.91,110.30 678.30,110.30 678.30,118.30 676.91,116.15 675.53,114.58 674.14,113.52 672.76,112.89 671.38,112.61 669.99,112.52 668.61,112.45 667.22,112.38 665.83,112.31 664.45,112.24 663.06,112.17 661.68,112.11 660.29,112.04 658.91,111.97 657.52,111.90 656.14,111.84 654.75,111.77 653.37,111.71 651.98,111.64 650.60,111.58 649.21,111.51 647.83,111.45 646.44,111.39 645.06,111.33 643.67,111.27 642.29,111.21 640.90,111.15 639.52,111.09 638.13,111.03 636.75,110.97 635.37,110.91 633.98,110.86 632.60,110.80 631.21,110.75 629.82,110.69 628.44,110.64 627.05,110.59 625.67,110.54 624.28,110.49 622.90,110.45 621.51,110.41 620.13,110.36 618.75,110.33 617.36,110.30 615.98,110.30 614.59,110.30 613.20,110.30 611.82,110.30 610.43,110.30 609.05,110.30 607.66,110.30 606.28,110.30 604.89,110.30 603.51,110.30 602.12,110.30 600.74,110.30 599.36,110.30 597.97,110.30 596.59,110.30 595.20,110.30 593.81,110.30 592.43,110.30 591.04,110.30 589.66,110.30 588.27,110.30 586.89,110.30 585.50,110.30 584.12,110.30 582.74,110.30 581.35,110.30 579.97,110.30 578.58,110.30 577.20,110.30 575.81,110.30 574.42,110.30 573.04,110.30 571.65,110.30 570.27,110.30 568.88,110.30 567.50,110.30" fill="#cfcfcf"/>
<path d="M567.50 18.50H678.30V128.50H567.50ZM567.50 79.40H678.30M567.50 96.20H678.30" stroke="#333" stroke-width="0.6" fill="none"/>
<text x="564.2" y="77.80" font-size="4.0" fill="#1a1a1a" text-anchor="end">0.0</text>
<path d="M565.9 76.40H567.5" stroke="#333" stroke-width="0.5"/>
<text x="564.2" y="61.64" font-size="4.0" fill="#1a1a1a" text-anchor="end">0.2</text>
<path d="M565.9 60.24H567.5" stroke="#333" stroke-width="0.5"/>
<text x="564.2" y="45.48" font-size="4.0" fill="#1a1a1a" text-anchor="end">0.4</text>
<path d="M565.9 44.08H567.5" stroke="#333" stroke-width="0.5"/>
<text x="564.2" y="29.32" font-size="4.0" fill="#1a1a1a" text-anchor="end">0.6</text>
<path d="M565.9 27.92H567.5" stroke="#333" stroke-width="0.5"/>
<text x="564.6" y="99.25" font-size="4.4" fill="#222" text-anchor="end">2</text>
<path d="M565.9 97.70H567.5" stroke="#333" stroke-width="0.5"/>
<text x="564.6" y="105.55" font-size="4.4" fill="#222" text-anchor="end">1</text>
<path d="M565.9 104.00H567.5" stroke="#333" stroke-width="0.5"/>
<text x="564.6" y="111.85" font-size="4.4" fill="#222" text-anchor="end">0</text>
<path d="M565.9 110.30H567.5" stroke="#333" stroke-width="0.5"/>
<text x="564.6" y="118.15" font-size="4.4" fill="#222" text-anchor="end">&#8722;1</text>
<path d="M565.9 116.60H567.5" stroke="#333" stroke-width="0.5"/>
<text x="564.6" y="124.45" font-size="4.4" fill="#222" text-anchor="end">&#8722;2</text>
<path d="M565.9 122.90H567.5" stroke="#333" stroke-width="0.5"/>
<text x="567.5" y="135.8" font-size="4.7" fill="#222" text-anchor="middle">0</text>
<path d="M567.5 128.5v0.9" stroke="#333" stroke-width="0.45"/>
<text x="609.0" y="135.8" font-size="4.7" fill="#222" text-anchor="middle">5000</text>
<path d="M609.0 128.5v0.9" stroke="#333" stroke-width="0.45"/>
<text x="650.5" y="135.8" font-size="4.7" fill="#222" text-anchor="middle">10000</text>
<path d="M650.5 128.5v0.9" stroke="#333" stroke-width="0.45"/>
<text x="622.9" y="141.9" font-size="4.63" fill="#222" text-anchor="middle">Rank in Ordered Dataset</text>
<text transform="translate(555.8 49.3) rotate(-90)" font-size="4.7" fill="#333" text-anchor="middle">Enrichment Score</text>
<text transform="translate(555.8 112.7) rotate(-90)" font-size="4.6" fill="#333" text-anchor="middle">Ranked list metric</text>
<text x="676.7" y="23.8" font-size="3.95" fill="#222" text-anchor="end"><tspan font-style="italic">NES</tspan> = 3.107</text>
<text x="676.7" y="28.4" font-size="3.95" fill="#222" text-anchor="end"><tspan font-style="italic">Padj</tspan> &lt; 0.001</text>
<text x="676.7" y="33.0" font-size="3.95" fill="#222" text-anchor="end"><tspan font-style="italic">FDR</tspan> &lt; 0.001</text>
<text x="487.5" y="154.2" font-size="4.63" fill="#222" text-anchor="middle">[Reactome] Detoxification of Reactive Oxygen</text>
<text x="487.5" y="158.7" font-size="4.63" fill="#222" text-anchor="middle">Species</text>
<path d="M432.8 207.32H542.3M432.8 200.34H542.3M432.8 193.36H542.3M432.8 186.38H542.3M432.8 179.40H542.3M432.8 172.42H542.3M432.8 165.44H542.3M453.27 160.5V218.4M473.73 160.5V218.4M494.20 160.5V218.4M514.67 160.5V218.4M535.14 160.5V218.4" stroke="#ebebeb" stroke-width="0.45" fill="none"/>
<path d="M432.8 235.90H542.3M432.8 238.88H542.3M432.8 241.85H542.3M432.8 244.83H542.3M432.8 247.80H542.3M432.8 250.78H542.3M432.8 253.75H542.3M432.8 256.73H542.3M432.8 259.70H542.3M432.8 262.68H542.3M453.27 234.0V265.4M473.73 234.0V265.4M494.20 234.0V265.4M514.67 234.0V265.4M535.14 234.0V265.4" stroke="#ebebeb" stroke-width="0.45" fill="none"/>
<path d="M432.8 214.30H542.3" stroke="#a0a0a0" stroke-width="0.5" stroke-dasharray="1.5 1.3"/>
<polyline points="432.90,214.30 433.20,210.30 434.50,209.70 435.10,200.10 436.10,200.70 437.00,201.40 437.90,195.00 438.90,194.40 439.60,183.50 441.50,182.90 442.10,180.30 442.80,175.90 444.00,174.60 444.70,170.80 445.90,169.50 446.60,166.90 447.60,163.10 456.80,168.50 459.10,166.30 467.00,170.80 472.70,173.30 478.00,175.20 481.80,176.90 489.50,181.60 497.10,186.30 499.10,187.10 507.40,192.50 516.30,197.60 525.20,203.30 534.20,208.80 542.20,214.20" stroke="#5fc8d9" stroke-width="0.75" fill="none" stroke-linejoin="round"/>
<rect x="433.10" y="218.4" width="2.30" height="11.9" fill="#aaa"/>
<rect x="437.10" y="218.4" width="0.70" height="11.9" fill="#555"/>
<rect x="438.90" y="218.4" width="1.10" height="11.9" fill="#444"/>
<rect x="441.50" y="218.4" width="0.50" height="11.9" fill="#666"/>
<rect x="443.20" y="218.4" width="0.60" height="11.9" fill="#555"/>
<rect x="444.90" y="218.4" width="1.90" height="11.9" fill="#555"/>
<rect x="447.40" y="218.4" width="0.60" height="11.9" fill="#333"/>
<rect x="457.20" y="218.4" width="1.30" height="11.9" fill="#999"/>
<rect x="467.45" y="218.4" width="0.50" height="11.9" fill="#555"/>
<rect x="471.75" y="218.4" width="0.50" height="11.9" fill="#888"/>
<rect x="475.25" y="218.4" width="0.50" height="11.9" fill="#555"/>
<rect x="479.50" y="218.4" width="0.90" height="11.9" fill="#999"/>
<rect x="481.70" y="218.4" width="0.90" height="11.9" fill="#ccc"/>
<rect x="492.35" y="218.4" width="0.50" height="11.9" fill="#555"/>
<rect x="497.70" y="218.4" width="0.90" height="11.9" fill="#ccc"/>
<rect x="432.80" y="230.30" width="44.55" height="3.70" fill="#b82222"/>
<rect x="477.30" y="230.30" width="18.75" height="3.70" fill="#d93131"/>
<rect x="496.00" y="230.30" width="12.25" height="3.70" fill="#ec684e"/>
<rect x="508.20" y="230.30" width="19.75" height="3.70" fill="#f1b7a0"/>
<rect x="527.90" y="230.30" width="2.65" height="3.70" fill="#f8ebe2"/>
<rect x="530.50" y="230.30" width="2.25" height="3.70" fill="#fbf9f8"/>
<rect x="532.70" y="230.30" width="3.15" height="3.70" fill="#b0d0ec"/>
<rect x="535.80" y="230.30" width="5.25" height="3.70" fill="#4a88c8"/>
<rect x="541.00" y="230.30" width="1.35" height="3.70" fill="#2060a8"/>
<polygon points="432.80,244.83 434.17,244.97 435.54,245.12 436.91,245.26 438.28,245.39 439.64,245.53 441.01,245.66 442.38,245.78 443.75,245.91 445.12,246.03 446.49,246.14 447.86,246.26 449.23,246.37 450.59,246.47 451.96,246.57 453.33,246.67 454.70,246.77 456.07,246.86 457.44,246.95 458.81,247.03 460.18,247.11 461.54,247.18 462.91,247.26 464.28,247.32 465.65,247.39 467.02,247.45 468.39,247.50 469.76,247.55 471.12,247.60 472.49,247.64 473.86,247.68 475.23,247.71 476.60,247.74 477.97,247.77 479.34,247.78 480.71,247.80 482.07,247.80 483.44,247.80 484.81,247.80 486.18,247.80 487.55,247.80 488.92,247.80 490.29,247.80 491.66,247.80 493.02,247.80 494.39,247.80 495.76,247.80 497.13,247.80 498.50,247.80 499.87,247.80 501.24,247.80 502.61,247.80 503.97,247.80 505.34,247.80 506.71,247.80 508.08,247.80 509.45,247.80 510.82,247.80 512.19,247.80 513.56,247.80 514.92,247.80 516.29,247.80 517.66,247.80 519.03,247.80 520.40,247.80 521.77,247.80 523.14,247.80 524.51,247.80 525.88,247.80 527.24,247.80 528.61,247.80 529.98,247.80 531.35,247.80 532.72,247.80 534.09,247.80 535.46,247.80 536.82,247.80 538.19,247.80 539.56,247.80 540.93,247.80 542.30,247.80 542.30,255.36 540.93,253.32 539.56,251.84 538.19,250.84 536.82,250.25 535.46,249.98 534.09,249.90 532.72,249.83 531.35,249.76 529.98,249.70 528.61,249.63 527.24,249.57 525.88,249.51 524.51,249.44 523.14,249.38 521.77,249.32 520.40,249.25 519.03,249.19 517.66,249.13 516.29,249.07 514.92,249.01 513.56,248.95 512.19,248.89 510.82,248.83 509.45,248.77 508.08,248.71 506.71,248.65 505.34,248.60 503.97,248.54 502.61,248.49 501.24,248.43 499.87,248.38 498.50,248.33 497.13,248.27 495.76,248.22 494.39,248.17 493.02,248.12 491.66,248.08 490.29,248.03 488.92,247.98 487.55,247.94 486.18,247.90 484.81,247.86 483.44,247.83 482.07,247.80 480.71,247.80 479.34,247.80 477.97,247.80 476.60,247.80 475.23,247.80 473.86,247.80 472.49,247.80 471.12,247.80 469.76,247.80 468.39,247.80 467.02,247.80 465.65,247.80 464.28,247.80 462.91,247.80 461.54,247.80 460.18,247.80 458.81,247.80 457.44,247.80 456.07,247.80 454.70,247.80 453.33,247.80 451.96,247.80 450.59,247.80 449.23,247.80 447.86,247.80 446.49,247.80 445.12,247.80 443.75,247.80 442.38,247.80 441.01,247.80 439.64,247.80 438.28,247.80 436.91,247.80 435.54,247.80 434.17,247.80 432.80,247.80" fill="#cfcfcf"/>
<path d="M432.80 160.50H542.30V265.40H432.80ZM432.80 218.40H542.30M432.80 234.00H542.30" stroke="#333" stroke-width="0.6" fill="none"/>
<text x="429.5" y="215.70" font-size="4.0" fill="#1a1a1a" text-anchor="end">0.0</text>
<path d="M431.2 214.30H432.8" stroke="#333" stroke-width="0.5"/>
<text x="429.5" y="201.74" font-size="4.0" fill="#1a1a1a" text-anchor="end">0.2</text>
<path d="M431.2 200.34H432.8" stroke="#333" stroke-width="0.5"/>
<text x="429.5" y="187.78" font-size="4.0" fill="#1a1a1a" text-anchor="end">0.4</text>
<path d="M431.2 186.38H432.8" stroke="#333" stroke-width="0.5"/>
<text x="429.5" y="173.82" font-size="4.0" fill="#1a1a1a" text-anchor="end">0.6</text>
<path d="M431.2 172.42H432.8" stroke="#333" stroke-width="0.5"/>
<text x="429.9" y="237.45" font-size="4.4" fill="#222" text-anchor="end">2</text>
<path d="M431.2 235.90H432.8" stroke="#333" stroke-width="0.5"/>
<text x="429.9" y="243.40" font-size="4.4" fill="#222" text-anchor="end">1</text>
<path d="M431.2 241.85H432.8" stroke="#333" stroke-width="0.5"/>
<text x="429.9" y="249.35" font-size="4.4" fill="#222" text-anchor="end">0</text>
<path d="M431.2 247.80H432.8" stroke="#333" stroke-width="0.5"/>
<text x="429.9" y="255.30" font-size="4.4" fill="#222" text-anchor="end">&#8722;1</text>
<path d="M431.2 253.75H432.8" stroke="#333" stroke-width="0.5"/>
<text x="429.9" y="261.25" font-size="4.4" fill="#222" text-anchor="end">&#8722;2</text>
<path d="M431.2 259.70H432.8" stroke="#333" stroke-width="0.5"/>
<text x="432.8" y="272.5" font-size="4.7" fill="#222" text-anchor="middle">0</text>
<path d="M432.8 265.4v0.9" stroke="#333" stroke-width="0.45"/>
<text x="473.8" y="272.5" font-size="4.7" fill="#222" text-anchor="middle">5000</text>
<path d="M473.8 265.4v0.9" stroke="#333" stroke-width="0.45"/>
<text x="514.8" y="272.5" font-size="4.7" fill="#222" text-anchor="middle">10000</text>
<path d="M514.8 265.4v0.9" stroke="#333" stroke-width="0.45"/>
<text x="487.5" y="278.4" font-size="4.63" fill="#222" text-anchor="middle">Rank in Ordered Dataset</text>
<text transform="translate(420.8 189.0) rotate(-90)" font-size="4.7" fill="#333" text-anchor="middle">Enrichment Score</text>
<text transform="translate(420.8 249.5) rotate(-90)" font-size="4.6" fill="#333" text-anchor="middle">Ranked list metric</text>
<text x="540.7" y="165.8" font-size="3.95" fill="#222" text-anchor="end"><tspan font-style="italic">NES</tspan> = 2.469</text>
<text x="540.7" y="170.4" font-size="3.95" fill="#222" text-anchor="end"><tspan font-style="italic">Padj</tspan> &lt; 0.001</text>
<text x="540.7" y="175.0" font-size="3.95" fill="#222" text-anchor="end"><tspan font-style="italic">FDR</tspan> &lt; 0.001</text>
<text x="622.7" y="154.2" font-size="4.63" fill="#222" text-anchor="middle">[WikiPathways] Electron Transport Chain</text>
<text x="622.7" y="158.7" font-size="4.63" fill="#222" text-anchor="middle">Oxphos System In Mitochondria</text>
<path d="M567.1 207.10H678.3M567.1 199.90H678.3M567.1 192.70H678.3M567.1 185.50H678.3M567.1 178.30H678.3M567.1 171.10H678.3M567.1 163.90H678.3M587.89 160.5V218.4M608.67 160.5V218.4M629.46 160.5V218.4M650.24 160.5V218.4M671.03 160.5V218.4" stroke="#ebebeb" stroke-width="0.45" fill="none"/>
<path d="M567.1 235.90H678.3M567.1 238.88H678.3M567.1 241.85H678.3M567.1 244.83H678.3M567.1 247.80H678.3M567.1 250.78H678.3M567.1 253.75H678.3M567.1 256.73H678.3M567.1 259.70H678.3M567.1 262.68H678.3M587.89 234.0V265.4M608.67 234.0V265.4M629.46 234.0V265.4M650.24 234.0V265.4M671.03 234.0V265.4" stroke="#ebebeb" stroke-width="0.45" fill="none"/>
<path d="M567.1 214.30H678.3" stroke="#a0a0a0" stroke-width="0.5" stroke-dasharray="1.5 1.3"/>
<polyline points="567.80,214.40 568.80,207.70 570.10,196.30 571.40,189.90 572.00,184.80 573.30,179.70 575.20,175.90 576.50,172.00 577.80,170.80 579.00,167.60 580.90,166.30 582.90,163.10 584.80,163.40 586.70,162.80 589.90,164.40 591.80,165.00 595.60,166.30 599.40,167.20 602.00,167.60 605.80,169.50 612.00,173.30 619.70,178.40 631.10,185.40 641.30,191.80 650.30,197.60 657.30,202.70 666.90,207.80 677.70,214.10 678.00,214.30" stroke="#5fc8d9" stroke-width="0.75" fill="none" stroke-linejoin="round"/>
<rect x="567.60" y="218.4" width="1.30" height="11.9" fill="#333"/>
<rect x="568.90" y="218.4" width="2.20" height="11.9" fill="#111"/>
<rect x="571.10" y="218.4" width="7.00" height="11.9" fill="#444"/>
<rect x="578.10" y="218.4" width="0.90" height="11.9" fill="#111"/>
<rect x="580.30" y="218.4" width="2.20" height="11.9" fill="#777"/>
<rect x="582.50" y="218.4" width="2.60" height="11.9" fill="#ccc"/>
<rect x="585.10" y="218.4" width="0.90" height="11.9" fill="#444"/>
<rect x="588.60" y="218.4" width="2.70" height="11.9" fill="#999"/>
<rect x="591.30" y="218.4" width="2.60" height="11.9" fill="#888"/>
<rect x="593.90" y="218.4" width="1.30" height="11.9" fill="#ccc"/>
<rect x="595.20" y="218.4" width="3.50" height="11.9" fill="#888"/>
<rect x="598.70" y="218.4" width="1.30" height="11.9" fill="#333"/>
<rect x="600.00" y="218.4" width="4.40" height="11.9" fill="#999"/>
<rect x="606.60" y="218.4" width="1.30" height="11.9" fill="#999"/>
<rect x="612.30" y="218.4" width="0.90" height="11.9" fill="#777"/>
<rect x="613.20" y="218.4" width="2.60" height="11.9" fill="#999"/>
<rect x="621.90" y="218.4" width="1.80" height="11.9" fill="#bbb"/>
<rect x="626.35" y="218.4" width="0.50" height="11.9" fill="#555"/>
<rect x="642.05" y="218.4" width="0.50" height="11.9" fill="#777"/>
<rect x="657.45" y="218.4" width="0.50" height="11.9" fill="#888"/>
<rect x="667.05" y="218.4" width="0.50" height="11.9" fill="#888"/>
<rect x="567.10" y="230.30" width="11.05" height="3.70" fill="#b82222"/>
<rect x="578.10" y="230.30" width="64.75" height="3.70" fill="#d93131"/>
<rect x="642.80" y="230.30" width="12.25" height="3.70" fill="#ec684e"/>
<rect x="655.00" y="230.30" width="9.25" height="3.70" fill="#f1b7a0"/>
<rect x="664.20" y="230.30" width="3.55" height="3.70" fill="#f8ebe2"/>
<rect x="667.70" y="230.30" width="4.05" height="3.70" fill="#fbf9f8"/>
<rect x="671.70" y="230.30" width="3.55" height="3.70" fill="#b0d0ec"/>
<rect x="675.20" y="230.30" width="3.15" height="3.70" fill="#3d7cc0"/>
<polygon points="567.10,244.83 568.49,244.97 569.88,245.12 571.27,245.26 572.66,245.39 574.05,245.53 575.44,245.66 576.83,245.78 578.22,245.91 579.61,246.03 581.00,246.14 582.39,246.26 583.78,246.37 585.17,246.47 586.56,246.57 587.95,246.67 589.34,246.77 590.73,246.86 592.12,246.95 593.51,247.03 594.90,247.11 596.29,247.18 597.68,247.26 599.07,247.32 600.46,247.39 601.85,247.45 603.24,247.50 604.63,247.55 606.02,247.60 607.41,247.64 608.80,247.68 610.19,247.71 611.58,247.74 612.97,247.77 614.36,247.78 615.75,247.80 617.14,247.80 618.53,247.80 619.92,247.80 621.31,247.80 622.70,247.80 624.09,247.80 625.48,247.80 626.87,247.80 628.26,247.80 629.65,247.80 631.04,247.80 632.43,247.80 633.82,247.80 635.21,247.80 636.60,247.80 637.99,247.80 639.38,247.80 640.77,247.80 642.16,247.80 643.55,247.80 644.94,247.80 646.33,247.80 647.72,247.80 649.11,247.80 650.50,247.80 651.89,247.80 653.28,247.80 654.67,247.80 656.06,247.80 657.45,247.80 658.84,247.80 660.23,247.80 661.62,247.80 663.01,247.80 664.40,247.80 665.79,247.80 667.18,247.80 668.57,247.80 669.96,247.80 671.35,247.80 672.74,247.80 674.13,247.80 675.52,247.80 676.91,247.80 678.30,247.80 678.30,255.36 676.91,253.32 675.52,251.84 674.13,250.84 672.74,250.25 671.35,249.98 669.96,249.90 668.57,249.83 667.18,249.76 665.79,249.70 664.40,249.63 663.01,249.57 661.62,249.51 660.23,249.44 658.84,249.38 657.45,249.32 656.06,249.25 654.67,249.19 653.28,249.13 651.89,249.07 650.50,249.01 649.11,248.95 647.72,248.89 646.33,248.83 644.94,248.77 643.55,248.71 642.16,248.65 640.77,248.60 639.38,248.54 637.99,248.49 636.60,248.43 635.21,248.38 633.82,248.33 632.43,248.27 631.04,248.22 629.65,248.17 628.26,248.12 626.87,248.08 625.48,248.03 624.09,247.98 622.70,247.94 621.31,247.90 619.92,247.86 618.53,247.83 617.14,247.80 615.75,247.80 614.36,247.80 612.97,247.80 611.58,247.80 610.19,247.80 608.80,247.80 607.41,247.80 606.02,247.80 604.63,247.80 603.24,247.80 601.85,247.80 600.46,247.80 599.07,247.80 597.68,247.80 596.29,247.80 594.90,247.80 593.51,247.80 592.12,247.80 590.73,247.80 589.34,247.80 587.95,247.80 586.56,247.80 585.17,247.80 583.78,247.80 582.39,247.80 581.00,247.80 579.61,247.80 578.22,247.80 576.83,247.80 575.44,247.80 574.05,247.80 572.66,247.80 571.27,247.80 569.88,247.80 568.49,247.80 567.10,247.80" fill="#cfcfcf"/>
<path d="M567.10 160.50H678.30V265.40H567.10ZM567.10 218.40H678.30M567.10 234.00H678.30" stroke="#333" stroke-width="0.6" fill="none"/>
<text x="563.8" y="215.70" font-size="4.0" fill="#1a1a1a" text-anchor="end">0.0</text>
<path d="M565.5 214.30H567.1" stroke="#333" stroke-width="0.5"/>
<text x="563.8" y="201.30" font-size="4.0" fill="#1a1a1a" text-anchor="end">0.2</text>
<path d="M565.5 199.90H567.1" stroke="#333" stroke-width="0.5"/>
<text x="563.8" y="186.90" font-size="4.0" fill="#1a1a1a" text-anchor="end">0.4</text>
<path d="M565.5 185.50H567.1" stroke="#333" stroke-width="0.5"/>
<text x="563.8" y="172.50" font-size="4.0" fill="#1a1a1a" text-anchor="end">0.6</text>
<path d="M565.5 171.10H567.1" stroke="#333" stroke-width="0.5"/>
<text x="564.2" y="237.45" font-size="4.4" fill="#222" text-anchor="end">2</text>
<path d="M565.5 235.90H567.1" stroke="#333" stroke-width="0.5"/>
<text x="564.2" y="243.40" font-size="4.4" fill="#222" text-anchor="end">1</text>
<path d="M565.5 241.85H567.1" stroke="#333" stroke-width="0.5"/>
<text x="564.2" y="249.35" font-size="4.4" fill="#222" text-anchor="end">0</text>
<path d="M565.5 247.80H567.1" stroke="#333" stroke-width="0.5"/>
<text x="564.2" y="255.30" font-size="4.4" fill="#222" text-anchor="end">&#8722;1</text>
<path d="M565.5 253.75H567.1" stroke="#333" stroke-width="0.5"/>
<text x="564.2" y="261.25" font-size="4.4" fill="#222" text-anchor="end">&#8722;2</text>
<path d="M565.5 259.70H567.1" stroke="#333" stroke-width="0.5"/>
<text x="567.1" y="272.5" font-size="4.7" fill="#222" text-anchor="middle">0</text>
<path d="M567.1 265.4v0.9" stroke="#333" stroke-width="0.45"/>
<text x="608.7" y="272.5" font-size="4.7" fill="#222" text-anchor="middle">5000</text>
<path d="M608.7 265.4v0.9" stroke="#333" stroke-width="0.45"/>
<text x="650.4" y="272.5" font-size="4.7" fill="#222" text-anchor="middle">10000</text>
<path d="M650.4 265.4v0.9" stroke="#333" stroke-width="0.45"/>
<text x="622.7" y="278.4" font-size="4.63" fill="#222" text-anchor="middle">Rank in Ordered Dataset</text>
<text transform="translate(556.2 189.0) rotate(-90)" font-size="4.7" fill="#333" text-anchor="middle">Enrichment Score</text>
<text transform="translate(556.2 249.5) rotate(-90)" font-size="4.6" fill="#333" text-anchor="middle">Ranked list metric</text>
<text x="676.7" y="165.8" font-size="3.95" fill="#222" text-anchor="end"><tspan font-style="italic">NES</tspan> = 3.244</text>
<text x="676.7" y="170.4" font-size="3.95" fill="#222" text-anchor="end"><tspan font-style="italic">Padj</tspan> &lt; 0.001</text>
<text x="676.7" y="175.0" font-size="3.95" fill="#222" text-anchor="end"><tspan font-style="italic">FDR</tspan> &lt; 0.001</text>
</svg></body></html>
